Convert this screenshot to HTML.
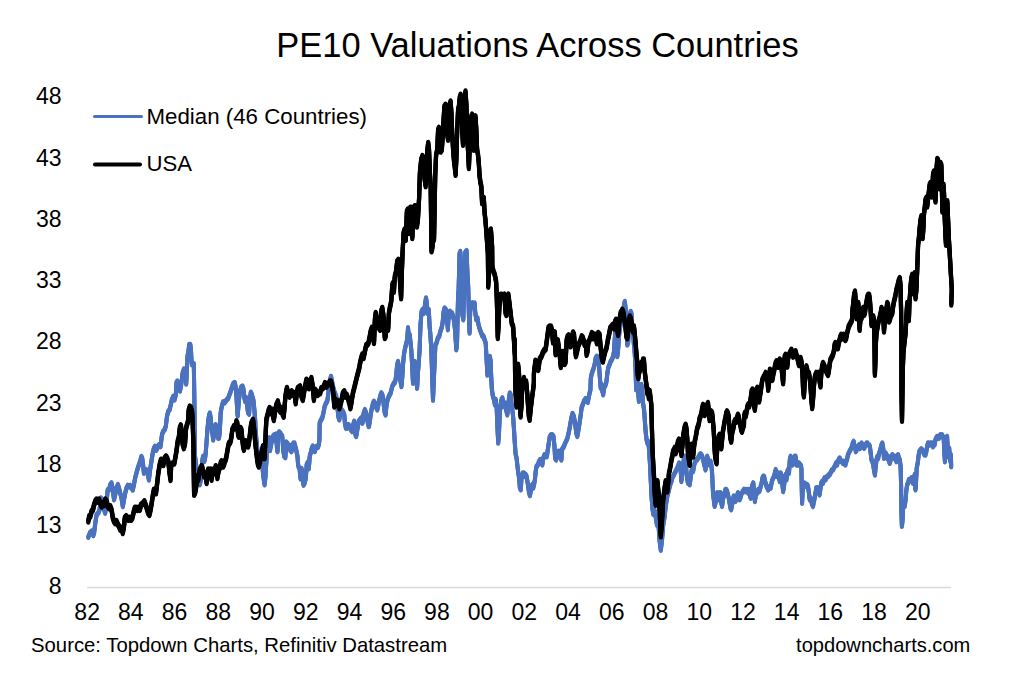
<!DOCTYPE html>
<html><head><meta charset="utf-8"><title>PE10 Valuations Across Countries</title>
<style>html,body{margin:0;padding:0;background:#fff;}svg{display:block;font-family:"Liberation Sans",sans-serif;}</style>
</head><body>
<svg width="1024" height="687" viewBox="0 0 1024 687">
<rect width="1024" height="687" fill="#fff"/>
<text x="537.5" y="56.8" font-size="35.5" text-anchor="middle" fill="#000" textLength="522.5" lengthAdjust="spacingAndGlyphs">PE10 Valuations Across Countries</text>
<text x="61.5" y="104.3" font-size="23" text-anchor="end" fill="#000">48</text>
<text x="61.5" y="165.54999999999998" font-size="23" text-anchor="end" fill="#000">43</text>
<text x="61.5" y="226.79999999999998" font-size="23" text-anchor="end" fill="#000">38</text>
<text x="61.5" y="288.05" font-size="23" text-anchor="end" fill="#000">33</text>
<text x="61.5" y="349.3" font-size="23" text-anchor="end" fill="#000">28</text>
<text x="61.5" y="410.55" font-size="23" text-anchor="end" fill="#000">23</text>
<text x="61.5" y="471.8" font-size="23" text-anchor="end" fill="#000">18</text>
<text x="61.5" y="533.0500000000001" font-size="23" text-anchor="end" fill="#000">13</text>
<text x="61.5" y="594.3000000000001" font-size="23" text-anchor="end" fill="#000">8</text>
<text x="87.15" y="620.3" font-size="23" text-anchor="middle" fill="#000">82</text>
<text x="130.87" y="620.3" font-size="23" text-anchor="middle" fill="#000">84</text>
<text x="174.59" y="620.3" font-size="23" text-anchor="middle" fill="#000">86</text>
<text x="218.31" y="620.3" font-size="23" text-anchor="middle" fill="#000">88</text>
<text x="262.03" y="620.3" font-size="23" text-anchor="middle" fill="#000">90</text>
<text x="305.75" y="620.3" font-size="23" text-anchor="middle" fill="#000">92</text>
<text x="349.47" y="620.3" font-size="23" text-anchor="middle" fill="#000">94</text>
<text x="393.18999999999994" y="620.3" font-size="23" text-anchor="middle" fill="#000">96</text>
<text x="436.90999999999997" y="620.3" font-size="23" text-anchor="middle" fill="#000">98</text>
<text x="480.63" y="620.3" font-size="23" text-anchor="middle" fill="#000">00</text>
<text x="524.35" y="620.3" font-size="23" text-anchor="middle" fill="#000">02</text>
<text x="568.0699999999999" y="620.3" font-size="23" text-anchor="middle" fill="#000">04</text>
<text x="611.79" y="620.3" font-size="23" text-anchor="middle" fill="#000">06</text>
<text x="655.51" y="620.3" font-size="23" text-anchor="middle" fill="#000">08</text>
<text x="699.2299999999999" y="620.3" font-size="23" text-anchor="middle" fill="#000">10</text>
<text x="742.9499999999999" y="620.3" font-size="23" text-anchor="middle" fill="#000">12</text>
<text x="786.67" y="620.3" font-size="23" text-anchor="middle" fill="#000">14</text>
<text x="830.39" y="620.3" font-size="23" text-anchor="middle" fill="#000">16</text>
<text x="874.11" y="620.3" font-size="23" text-anchor="middle" fill="#000">18</text>
<text x="917.8299999999999" y="620.3" font-size="23" text-anchor="middle" fill="#000">20</text>
<line x1="87.2" y1="587.5" x2="950.8" y2="587.5" stroke="#d9d9d9" stroke-width="1.7"/>
<g fill="none" stroke="#4A72BF" stroke-width="4.0" stroke-linejoin="round" stroke-linecap="round">
<path transform="translate(0 -0.9)" d="M88.3,537.1 L90.0,532.9 L91.6,531.3 L93.3,535.4 L94.1,532.9 L95.3,523.0 L96.6,514.7 L98.3,513.0 L99.6,509.7 L100.8,498.1 L101.9,499.7 L102.9,506.4 L104.1,509.7 L105.2,513.0 L106.6,501.4 L107.7,489.8 L109.1,489.8 L110.2,484.8 L111.5,483.1 L112.9,489.8 L114.0,499.7 L115.2,494.8 L116.5,488.1 L117.9,484.8 L119.0,488.1 L120.2,493.1 L121.5,498.1 L122.8,506.4 L124.0,499.7 L125.2,493.1 L126.5,488.1 L127.8,485.6 L129.0,486.5 L130.1,485.6 L131.5,488.1 L132.8,489.8 L133.9,484.8 L135.1,478.2 L136.4,473.2 L137.8,468.2 L138.9,464.9 L140.1,461.6 L141.4,456.6 L142.2,458.2 L143.1,464.9 L143.9,473.2 L145.1,471.5 L146.4,469.9 L147.7,473.2 L148.9,479.8 L150.1,469.9 L151.4,461.6 L152.7,453.3 L153.9,448.3 L155.0,446.6 L156.4,450.0 L157.7,446.6 L158.8,445.0 L160.5,446.6 L160.8,444.5 L162.0,434.6 L163.3,431.2 L164.7,429.6 L165.8,426.3 L167.0,416.3 L168.3,411.3 L169.6,409.7 L170.8,404.7 L171.9,399.7 L173.3,396.4 L174.6,399.7 L175.8,394.7 L176.6,382.2 L177.4,381.3 L178.7,387.4 L180.0,390.9 L181.3,383.9 L182.7,372.6 L184.0,369.1 L185.3,369.9 L186.2,383.9 L187.0,367.3 L187.5,356.0 L188.3,352.5 L189.2,344.6 L190.3,344.6 L191.0,350.7 L191.4,359.4 L192.0,364.7 L192.9,363.8 L193.8,363.8 L194.3,395.0 L195.0,456.4 L195.8,461.4 L196.6,469.6 L197.4,473.0 L198.3,477.9 L199.1,482.9 L199.9,484.6 L200.8,479.6 L201.6,469.6 L202.4,459.7 L203.2,456.4 L204.1,461.4 L204.9,459.7 L205.7,453.1 L206.6,441.4 L207.4,429.8 L208.2,421.5 L209.1,414.9 L209.9,413.2 L210.7,418.2 L211.6,428.2 L212.4,433.1 L213.2,439.8 L214.0,433.1 L214.9,426.5 L215.7,424.9 L216.5,429.8 L217.4,434.8 L218.2,438.1 L219.0,438.1 L219.8,431.5 L220.7,412.4 L222.0,405.4 L223.3,401.9 L224.6,402.8 L226.3,400.2 L228.1,398.4 L229.4,394.9 L230.7,391.4 L232.0,387.1 L233.3,383.6 L234.7,382.7 L235.5,386.2 L236.4,394.9 L237.3,412.4 L237.7,415.9 L238.6,403.7 L239.9,391.4 L241.2,387.1 L242.5,386.2 L243.4,388.8 L244.3,397.6 L245.1,401.1 L246.0,397.6 L246.9,403.7 L248.0,412.4 L249.1,414.1 L249.9,399.3 L250.8,392.3 L251.7,394.1 L252.6,397.6 L253.4,400.2 L254.3,408.9 L255.2,420.0 L255.5,428.2 L256.4,439.8 L257.2,448.1 L258.0,456.4 L258.9,463.0 L259.7,456.4 L260.5,453.1 L261.3,459.7 L262.2,463.0 L263.0,473.0 L263.8,479.6 L264.6,484.6 L265.5,476.3 L266.3,463.0 L267.1,451.4 L268.0,444.8 L268.8,439.8 L269.6,438.1 L270.0,450.4 L271.0,445.3 L272.0,440.2 L273.1,436.1 L274.1,435.1 L275.1,440.2 L276.1,434.1 L277.1,450.4 L277.6,451.4 L278.1,436.1 L279.2,432.0 L280.2,433.1 L281.2,435.1 L282.2,436.1 L282.7,442.2 L283.2,450.4 L284.3,456.5 L285.3,457.5 L285.8,450.4 L286.3,442.2 L287.3,443.2 L288.3,447.3 L289.4,445.3 L290.4,450.4 L291.4,451.4 L292.4,448.3 L293.4,443.2 L294.4,443.2 L295.5,447.3 L296.5,451.4 L297.5,456.5 L298.0,463.6 L298.5,466.7 L299.6,468.7 L300.1,474.8 L300.6,478.9 L301.6,468.7 L302.4,472.8 L303.1,483.0 L303.6,485.0 L304.6,483.0 L305.7,478.9 L306.2,472.8 L306.7,464.6 L307.7,462.6 L308.7,468.7 L309.2,463.6 L309.7,456.5 L310.8,452.4 L311.8,448.3 L312.8,446.3 L313.8,447.3 L314.8,451.4 L315.9,447.3 L316.9,446.3 L317.9,447.3 L318.9,444.3 L319.4,440.2 L319.7,423.0 L321.1,419.7 L322.2,418.1 L323.4,413.1 L324.7,406.4 L326.0,403.1 L327.2,401.5 L328.0,396.5 L328.9,388.2 L330.0,379.9 L331.0,376.6 L331.7,379.9 L332.7,384.9 L333.8,389.9 L335.0,393.2 L336.3,396.5 L337.5,408.1 L338.3,416.4 L339.3,419.7 L340.5,413.1 L341.6,409.8 L342.9,411.4 L344.3,414.7 L344.9,423.0 L345.9,428.0 L347.1,428.0 L348.3,424.7 L349.6,426.4 L350.9,429.7 L352.1,431.3 L353.2,424.7 L354.2,421.4 L355.4,434.6 L356.2,436.3 L357.6,428.0 L358.7,421.4 L359.9,419.7 L361.2,418.1 L362.5,423.0 L363.7,413.1 L364.9,409.8 L366.2,413.1 L367.5,421.4 L368.7,426.4 L369.0,426.3 L369.8,421.3 L370.7,414.7 L371.5,409.7 L372.3,406.4 L373.1,403.1 L374.0,401.4 L374.8,403.1 L375.6,406.4 L376.5,408.0 L377.3,409.7 L378.1,406.4 L378.9,401.4 L379.8,398.1 L380.6,394.8 L381.4,393.1 L382.3,394.8 L383.1,398.1 L383.9,406.4 L384.8,413.0 L385.6,414.7 L386.4,406.4 L387.2,401.4 L388.1,398.1 L388.9,396.4 L389.7,394.8 L390.6,393.1 L391.4,389.8 L392.2,386.5 L393.1,384.8 L393.9,383.1 L394.7,383.1 L395.6,379.8 L396.4,373.2 L397.2,364.9 L398.0,361.6 L398.9,366.6 L399.7,373.2 L400.5,381.5 L401.4,386.5 L402.2,378.2 L403.0,364.9 L403.9,354.9 L404.7,350.0 L405.5,346.6 L406.3,343.3 L407.2,340.0 L408.0,328.0 L408.9,336.3 L409.7,334.6 L411.3,350.0 L412.1,364.9 L413.0,383.1 L413.8,373.2 L414.6,361.6 L415.5,366.6 L416.3,376.5 L417.1,388.1 L417.9,373.2 L418.8,361.6 L419.6,350.0 L420.5,324.7 L421.6,311.4 L422.6,309.7 L423.8,313.1 L425.0,304.8 L426.0,298.1 L426.6,301.4 L427.6,313.1 L428.8,309.7 L429.6,326.3 L430.4,334.6 L431.3,349.6 L433.0,400.0 L434.2,371.8 L435.4,344.6 L436.6,342.9 L437.9,337.9 L439.2,336.3 L440.4,331.3 L441.6,328.0 L442.6,323.0 L443.7,311.4 L444.6,308.1 L445.9,309.7 L447.0,319.7 L447.9,329.6 L448.7,313.1 L449.9,311.4 L450.9,316.4 L452.0,313.1 L453.2,316.4 L453.6,318.0 L455.0,329.6 L456.3,349.5 L457.0,344.6 L458.0,298.1 L458.6,289.8 L459.6,253.3 L460.3,251.6 L460.9,298.1 L461.6,294.8 L462.4,314.7 L463.3,319.6 L464.1,289.8 L464.9,253.3 L465.8,251.6 L466.6,250.8 L467.4,273.2 L468.2,286.5 L469.1,323.0 L469.6,332.9 L470.2,311.4 L471.2,304.7 L472.4,303.1 L473.6,306.4 L474.6,303.1 L475.2,311.4 L476.2,319.6 L477.4,318.0 L478.5,324.6 L479.9,329.6 L481.2,332.9 L482.4,336.2 L483.5,336.2 L484.5,339.6 L485.7,342.9 L487.4,374.9 L488.2,373.2 L489.1,364.9 L489.9,356.6 L490.7,361.6 L491.2,376.5 L491.9,389.8 L492.9,396.4 L494.1,399.7 L494.9,404.7 L495.7,399.7 L496.6,406.4 L497.4,426.3 L498.2,442.9 L499.0,432.9 L499.9,411.4 L500.7,406.4 L501.5,399.7 L502.4,398.1 L503.2,403.1 L504.0,406.4 L504.9,403.1 L505.7,408.0 L506.5,411.4 L507.3,414.7 L508.2,406.4 L509.0,398.1 L509.8,393.1 L510.7,394.8 L511.5,403.1 L512.3,409.7 L513.1,416.3 L514.0,429.6 L514.8,442.9 L515.6,454.0 L516.6,458.2 L517.5,466.5 L518.3,473.1 L519.1,478.1 L519.9,488.0 L520.8,489.7 L521.6,476.4 L522.9,473.1 L524.1,473.1 L524.9,476.4 L525.7,474.8 L526.6,476.4 L527.4,481.4 L528.2,486.4 L529.1,493.0 L529.9,495.5 L530.7,491.4 L531.5,486.4 L532.4,484.7 L533.2,488.0 L534.0,484.7 L534.9,479.7 L535.7,471.4 L536.5,466.5 L537.9,464.8 L539.0,461.5 L540.2,459.8 L541.2,461.5 L542.3,464.8 L543.2,458.2 L544.5,454.9 L545.7,456.5 L546.8,456.5 L547.8,449.9 L549.0,441.6 L549.8,436.6 L551.1,434.9 L552.3,434.9 L553.5,436.6 L554.5,446.6 L555.1,458.2 L556.1,459.8 L557.3,453.2 L558.4,451.5 L559.4,451.5 L560.6,458.2 L561.4,459.8 L562.0,449.4 L563.7,446.8 L565.5,442.4 L567.2,438.9 L568.5,433.7 L569.9,426.7 L571.2,418.8 L572.5,413.6 L573.8,416.2 L575.1,423.2 L576.4,433.7 L577.3,436.3 L578.1,431.9 L579.5,423.2 L580.8,414.4 L581.6,407.5 L583.0,404.0 L584.3,400.5 L585.6,398.7 L586.9,401.4 L587.8,402.2 L588.6,397.9 L589.5,393.5 L590.4,390.0 L590.8,378.0 L591.9,373.0 L593.2,369.7 L594.6,364.7 L595.7,358.1 L596.9,356.4 L598.2,358.1 L599.1,366.4 L599.9,378.0 L600.7,387.9 L601.5,384.6 L602.4,391.2 L603.2,394.6 L604.0,387.9 L604.9,386.3 L605.7,384.6 L606.5,381.3 L607.4,373.0 L608.2,368.0 L609.5,364.7 L610.7,361.4 L611.8,359.7 L613.2,356.4 L614.0,351.4 L614.8,338.1 L615.7,329.9 L616.5,338.1 L617.3,356.4 L618.1,349.8 L619.0,336.5 L619.8,328.2 L621.1,323.2 L622.3,319.9 L623.1,313.2 L624.0,305.0 L624.8,301.6 L625.6,308.3 L626.4,328.2 L627.3,344.8 L628.1,343.1 L628.9,328.2 L629.8,314.9 L630.6,311.6 L631.4,313.2 L632.2,324.9 L633.1,333.2 L633.9,344.8 L634.7,353.1 L635.6,369.7 L636.1,389.6 L636.7,381.3 L637.7,382.9 L638.4,394.6 L638.9,401.2 L639.7,394.6 L640.5,391.2 L641.4,384.6 L642.2,391.2 L643.0,402.9 L644.1,410.0 L644.9,421.6 L645.8,433.2 L646.6,439.8 L647.4,443.1 L648.2,441.5 L649.1,449.8 L649.9,463.1 L650.7,479.6 L651.6,497.9 L652.4,507.9 L653.2,514.0 L654.5,510.0 L655.8,517.5 L657.0,525.0 L658.2,520.0 L659.5,540.0 L660.8,550.0 L662.0,540.0 L663.2,525.0 L664.5,517.5 L664.9,514.0 L665.7,506.2 L666.5,501.2 L667.3,496.2 L668.2,492.9 L669.0,489.6 L669.8,486.3 L670.7,483.0 L671.5,481.3 L672.3,478.0 L673.1,476.3 L674.0,474.7 L674.8,473.0 L675.6,471.4 L676.5,469.7 L677.3,468.0 L678.1,466.4 L679.0,463.1 L679.8,464.7 L680.6,469.7 L681.4,481.3 L682.3,473.0 L683.1,463.1 L683.9,459.7 L684.8,456.4 L685.6,459.7 L686.4,471.4 L687.2,479.6 L688.1,483.0 L688.9,479.6 L689.7,484.6 L690.6,478.0 L691.4,471.4 L692.2,468.0 L693.1,471.4 L693.9,466.4 L694.7,463.1 L695.5,461.4 L696.4,459.7 L697.2,459.7 L698.0,458.1 L698.9,456.4 L699.7,454.8 L700.5,453.9 L701.4,454.8 L702.2,456.4 L703.0,459.7 L703.9,463.1 L704.7,466.4 L705.5,469.7 L706.3,463.1 L707.2,456.4 L708.0,459.7 L708.8,463.1 L709.6,464.7 L710.5,461.4 L711.3,464.7 L712.1,473.0 L713.0,492.9 L713.8,499.6 L714.6,506.2 L715.5,502.9 L716.3,497.9 L717.1,492.9 L718.0,496.2 L718.8,499.6 L719.6,492.9 L720.4,492.9 L721.3,502.9 L722.1,506.2 L722.9,499.6 L723.8,496.2 L724.6,492.9 L725.4,489.6 L726.2,489.6 L727.1,491.3 L727.9,494.6 L728.7,497.9 L729.6,502.9 L730.4,507.9 L731.2,509.5 L732.1,504.6 L732.9,499.6 L733.7,496.2 L734.5,497.9 L735.4,501.2 L736.2,499.6 L737.0,496.2 L737.9,492.9 L738.7,494.6 L739.5,499.6 L740.4,497.9 L741.2,494.6 L742.0,492.9 L742.8,491.3 L744.0,489.6 L744.1,489.7 L745.0,491.4 L745.8,489.7 L746.6,491.4 L747.5,489.7 L748.3,493.0 L749.1,489.7 L750.0,496.3 L750.8,498.0 L751.6,489.7 L752.5,484.7 L753.3,483.1 L754.1,493.0 L754.9,501.3 L755.8,494.7 L756.6,491.4 L757.4,493.0 L758.2,489.7 L759.1,491.4 L759.9,489.7 L760.7,486.4 L761.6,483.1 L762.4,478.1 L763.2,476.4 L764.1,476.4 L764.9,481.4 L765.7,483.1 L766.5,486.4 L767.4,488.0 L768.2,489.7 L769.0,488.0 L769.9,486.4 L770.7,488.0 L771.5,483.1 L772.4,479.7 L773.2,478.1 L774.0,476.4 L774.9,473.1 L775.7,469.8 L776.5,473.1 L777.3,476.4 L778.2,473.1 L779.0,478.1 L779.8,481.4 L780.7,473.1 L781.5,476.4 L782.3,483.1 L783.1,491.4 L784.0,486.4 L784.8,478.1 L785.6,474.8 L786.5,479.7 L787.3,471.4 L788.1,469.8 L789.0,473.1 L789.8,459.8 L790.6,456.5 L791.4,461.5 L792.3,464.8 L793.1,459.8 L793.9,463.1 L794.8,456.5 L795.6,456.5 L796.4,464.8 L797.2,463.1 L798.1,464.8 L798.9,463.1 L799.7,464.8 L800.6,464.8 L801.4,468.1 L801.7,486.4 L802.1,503.0 L802.7,489.7 L803.4,483.1 L804.4,483.1 L805.5,484.7 L806.4,486.4 L807.2,484.7 L808.0,486.4 L808.9,493.0 L809.7,499.6 L810.5,498.0 L811.4,501.3 L812.2,504.6 L813.0,506.3 L813.9,501.3 L814.7,498.0 L815.5,493.0 L816.3,488.0 L817.2,489.7 L818.0,488.0 L818.8,491.4 L819.6,494.7 L820.5,488.0 L821.3,483.1 L822.1,481.4 L823.0,483.1 L823.8,479.7 L824.6,478.1 L825.5,479.7 L826.3,478.1 L827.1,476.4 L828.0,476.4 L828.8,474.8 L829.6,474.8 L830.4,473.1 L831.3,471.4 L832.1,469.8 L832.9,469.8 L833.8,468.1 L834.6,466.5 L835.4,464.8 L836.2,463.1 L837.1,464.8 L837.9,461.5 L838.7,459.8 L839.6,458.2 L840.4,459.8 L841.2,461.5 L842.1,461.5 L842.9,463.1 L843.7,461.5 L844.5,463.1 L845.4,464.8 L846.2,461.5 L847.0,459.8 L847.9,454.9 L848.7,453.2 L849.5,451.5 L850.4,449.9 L851.2,448.2 L852.0,446.6 L852.8,443.2 L853.7,441.6 L854.1,444.9 L855.0,446.6 L855.8,451.5 L856.6,449.9 L857.5,446.6 L858.3,448.2 L859.1,444.9 L859.9,448.2 L860.8,444.9 L861.6,443.2 L862.4,444.9 L863.2,446.6 L864.1,448.2 L864.9,446.6 L865.7,444.9 L866.6,443.2 L867.4,443.2 L868.2,444.9 L869.1,444.9 L869.9,446.6 L870.7,453.2 L871.5,459.8 L872.4,461.5 L873.2,464.8 L874.0,469.8 L874.9,474.8 L875.7,466.5 L876.5,459.8 L877.4,456.5 L878.2,458.2 L879.0,453.2 L879.9,451.5 L880.7,448.2 L881.5,444.9 L882.3,443.2 L883.2,448.2 L884.0,458.2 L884.8,454.9 L885.7,453.2 L886.5,454.9 L887.3,458.2 L888.1,456.5 L889.0,461.5 L889.8,463.1 L890.6,459.8 L891.5,458.2 L892.3,454.9 L893.1,456.5 L894.0,458.2 L894.8,456.5 L895.6,458.2 L896.4,461.5 L897.3,456.5 L898.1,454.9 L898.9,458.2 L899.8,459.8 L900.6,466.5 L901.1,486.4 L901.4,511.3 L901.9,526.2 L902.6,519.6 L903.1,506.3 L903.9,503.0 L904.7,506.3 L905.6,499.6 L906.4,489.7 L907.2,484.7 L908.1,483.1 L908.9,479.7 L909.7,479.7 L910.5,479.7 L911.4,478.1 L912.2,481.4 L913.0,483.1 L913.9,478.1 L914.7,474.8 L915.5,489.7 L916.0,483.1 L916.7,468.1 L917.7,463.1 L918.5,456.5 L919.3,451.5 L920.5,449.9 L921.3,449.0 L922.2,449.9 L923.0,451.5 L923.8,453.2 L924.6,454.9 L925.5,454.9 L926.3,451.5 L927.1,446.6 L928.0,443.2 L928.8,443.2 L929.6,444.9 L930.5,443.2 L931.3,443.2 L932.1,443.2 L933.0,446.6 L933.8,444.9 L934.6,444.9 L935.4,439.9 L936.3,438.2 L937.1,436.6 L937.9,436.6 L938.8,438.2 L939.6,436.6 L940.4,434.9 L941.2,436.6 L942.1,434.9 L942.9,436.6 L943.7,438.2 L944.2,449.9 L944.9,461.5 L945.4,454.9 L945.9,448.2 L946.6,438.2 L947.1,436.6 L947.6,446.6 L948.2,456.5 L948.7,449.9 L949.2,448.2 L949.9,458.2 L950.4,461.5 L950.9,454.9 L951.2,466.5"/>
<path d="M88.3,537.1 L90.0,532.9 L91.6,531.3 L93.3,535.4 L94.1,532.9 L95.3,523.0 L96.6,514.7 L98.3,513.0 L99.6,509.7 L100.8,498.1 L101.9,499.7 L102.9,506.4 L104.1,509.7 L105.2,513.0 L106.6,501.4 L107.7,489.8 L109.1,489.8 L110.2,484.8 L111.5,483.1 L112.9,489.8 L114.0,499.7 L115.2,494.8 L116.5,488.1 L117.9,484.8 L119.0,488.1 L120.2,493.1 L121.5,498.1 L122.8,506.4 L124.0,499.7 L125.2,493.1 L126.5,488.1 L127.8,485.6 L129.0,486.5 L130.1,485.6 L131.5,488.1 L132.8,489.8 L133.9,484.8 L135.1,478.2 L136.4,473.2 L137.8,468.2 L138.9,464.9 L140.1,461.6 L141.4,456.6 L142.2,458.2 L143.1,464.9 L143.9,473.2 L145.1,471.5 L146.4,469.9 L147.7,473.2 L148.9,479.8 L150.1,469.9 L151.4,461.6 L152.7,453.3 L153.9,448.3 L155.0,446.6 L156.4,450.0 L157.7,446.6 L158.8,445.0 L160.5,446.6 L160.8,444.5 L162.0,434.6 L163.3,431.2 L164.7,429.6 L165.8,426.3 L167.0,416.3 L168.3,411.3 L169.6,409.7 L170.8,404.7 L171.9,399.7 L173.3,396.4 L174.6,399.7 L175.8,394.7 L176.6,382.2 L177.4,381.3 L178.7,387.4 L180.0,390.9 L181.3,383.9 L182.7,372.6 L184.0,369.1 L185.3,369.9 L186.2,383.9 L187.0,367.3 L187.5,356.0 L188.3,352.5 L189.2,344.6 L190.3,344.6 L191.0,350.7 L191.4,359.4 L192.0,364.7 L192.9,363.8 L193.8,363.8 L194.3,395.0 L195.0,456.4 L195.8,461.4 L196.6,469.6 L197.4,473.0 L198.3,477.9 L199.1,482.9 L199.9,484.6 L200.8,479.6 L201.6,469.6 L202.4,459.7 L203.2,456.4 L204.1,461.4 L204.9,459.7 L205.7,453.1 L206.6,441.4 L207.4,429.8 L208.2,421.5 L209.1,414.9 L209.9,413.2 L210.7,418.2 L211.6,428.2 L212.4,433.1 L213.2,439.8 L214.0,433.1 L214.9,426.5 L215.7,424.9 L216.5,429.8 L217.4,434.8 L218.2,438.1 L219.0,438.1 L219.8,431.5 L220.7,412.4 L222.0,405.4 L223.3,401.9 L224.6,402.8 L226.3,400.2 L228.1,398.4 L229.4,394.9 L230.7,391.4 L232.0,387.1 L233.3,383.6 L234.7,382.7 L235.5,386.2 L236.4,394.9 L237.3,412.4 L237.7,415.9 L238.6,403.7 L239.9,391.4 L241.2,387.1 L242.5,386.2 L243.4,388.8 L244.3,397.6 L245.1,401.1 L246.0,397.6 L246.9,403.7 L248.0,412.4 L249.1,414.1 L249.9,399.3 L250.8,392.3 L251.7,394.1 L252.6,397.6 L253.4,400.2 L254.3,408.9 L255.2,420.0 L255.5,428.2 L256.4,439.8 L257.2,448.1 L258.0,456.4 L258.9,463.0 L259.7,456.4 L260.5,453.1 L261.3,459.7 L262.2,463.0 L263.0,473.0 L263.8,479.6 L264.6,484.6 L265.5,476.3 L266.3,463.0 L267.1,451.4 L268.0,444.8 L268.8,439.8 L269.6,438.1 L270.0,450.4 L271.0,445.3 L272.0,440.2 L273.1,436.1 L274.1,435.1 L275.1,440.2 L276.1,434.1 L277.1,450.4 L277.6,451.4 L278.1,436.1 L279.2,432.0 L280.2,433.1 L281.2,435.1 L282.2,436.1 L282.7,442.2 L283.2,450.4 L284.3,456.5 L285.3,457.5 L285.8,450.4 L286.3,442.2 L287.3,443.2 L288.3,447.3 L289.4,445.3 L290.4,450.4 L291.4,451.4 L292.4,448.3 L293.4,443.2 L294.4,443.2 L295.5,447.3 L296.5,451.4 L297.5,456.5 L298.0,463.6 L298.5,466.7 L299.6,468.7 L300.1,474.8 L300.6,478.9 L301.6,468.7 L302.4,472.8 L303.1,483.0 L303.6,485.0 L304.6,483.0 L305.7,478.9 L306.2,472.8 L306.7,464.6 L307.7,462.6 L308.7,468.7 L309.2,463.6 L309.7,456.5 L310.8,452.4 L311.8,448.3 L312.8,446.3 L313.8,447.3 L314.8,451.4 L315.9,447.3 L316.9,446.3 L317.9,447.3 L318.9,444.3 L319.4,440.2 L319.7,423.0 L321.1,419.7 L322.2,418.1 L323.4,413.1 L324.7,406.4 L326.0,403.1 L327.2,401.5 L328.0,396.5 L328.9,388.2 L330.0,379.9 L331.0,376.6 L331.7,379.9 L332.7,384.9 L333.8,389.9 L335.0,393.2 L336.3,396.5 L337.5,408.1 L338.3,416.4 L339.3,419.7 L340.5,413.1 L341.6,409.8 L342.9,411.4 L344.3,414.7 L344.9,423.0 L345.9,428.0 L347.1,428.0 L348.3,424.7 L349.6,426.4 L350.9,429.7 L352.1,431.3 L353.2,424.7 L354.2,421.4 L355.4,434.6 L356.2,436.3 L357.6,428.0 L358.7,421.4 L359.9,419.7 L361.2,418.1 L362.5,423.0 L363.7,413.1 L364.9,409.8 L366.2,413.1 L367.5,421.4 L368.7,426.4 L369.0,426.3 L369.8,421.3 L370.7,414.7 L371.5,409.7 L372.3,406.4 L373.1,403.1 L374.0,401.4 L374.8,403.1 L375.6,406.4 L376.5,408.0 L377.3,409.7 L378.1,406.4 L378.9,401.4 L379.8,398.1 L380.6,394.8 L381.4,393.1 L382.3,394.8 L383.1,398.1 L383.9,406.4 L384.8,413.0 L385.6,414.7 L386.4,406.4 L387.2,401.4 L388.1,398.1 L388.9,396.4 L389.7,394.8 L390.6,393.1 L391.4,389.8 L392.2,386.5 L393.1,384.8 L393.9,383.1 L394.7,383.1 L395.6,379.8 L396.4,373.2 L397.2,364.9 L398.0,361.6 L398.9,366.6 L399.7,373.2 L400.5,381.5 L401.4,386.5 L402.2,378.2 L403.0,364.9 L403.9,354.9 L404.7,350.0 L405.5,346.6 L406.3,343.3 L407.2,340.0 L408.0,328.0 L408.9,336.3 L409.7,334.6 L411.3,350.0 L412.1,364.9 L413.0,383.1 L413.8,373.2 L414.6,361.6 L415.5,366.6 L416.3,376.5 L417.1,388.1 L417.9,373.2 L418.8,361.6 L419.6,350.0 L420.5,324.7 L421.6,311.4 L422.6,309.7 L423.8,313.1 L425.0,304.8 L426.0,298.1 L426.6,301.4 L427.6,313.1 L428.8,309.7 L429.6,326.3 L430.4,334.6 L431.3,349.6 L433.0,400.0 L434.2,371.8 L435.4,344.6 L436.6,342.9 L437.9,337.9 L439.2,336.3 L440.4,331.3 L441.6,328.0 L442.6,323.0 L443.7,311.4 L444.6,308.1 L445.9,309.7 L447.0,319.7 L447.9,329.6 L448.7,313.1 L449.9,311.4 L450.9,316.4 L452.0,313.1 L453.2,316.4 L453.6,318.0 L455.0,329.6 L456.3,349.5 L457.0,344.6 L458.0,298.1 L458.6,289.8 L459.6,253.3 L460.3,251.6 L460.9,298.1 L461.6,294.8 L462.4,314.7 L463.3,319.6 L464.1,289.8 L464.9,253.3 L465.8,251.6 L466.6,250.8 L467.4,273.2 L468.2,286.5 L469.1,323.0 L469.6,332.9 L470.2,311.4 L471.2,304.7 L472.4,303.1 L473.6,306.4 L474.6,303.1 L475.2,311.4 L476.2,319.6 L477.4,318.0 L478.5,324.6 L479.9,329.6 L481.2,332.9 L482.4,336.2 L483.5,336.2 L484.5,339.6 L485.7,342.9 L487.4,374.9 L488.2,373.2 L489.1,364.9 L489.9,356.6 L490.7,361.6 L491.2,376.5 L491.9,389.8 L492.9,396.4 L494.1,399.7 L494.9,404.7 L495.7,399.7 L496.6,406.4 L497.4,426.3 L498.2,442.9 L499.0,432.9 L499.9,411.4 L500.7,406.4 L501.5,399.7 L502.4,398.1 L503.2,403.1 L504.0,406.4 L504.9,403.1 L505.7,408.0 L506.5,411.4 L507.3,414.7 L508.2,406.4 L509.0,398.1 L509.8,393.1 L510.7,394.8 L511.5,403.1 L512.3,409.7 L513.1,416.3 L514.0,429.6 L514.8,442.9 L515.6,454.0 L516.6,458.2 L517.5,466.5 L518.3,473.1 L519.1,478.1 L519.9,488.0 L520.8,489.7 L521.6,476.4 L522.9,473.1 L524.1,473.1 L524.9,476.4 L525.7,474.8 L526.6,476.4 L527.4,481.4 L528.2,486.4 L529.1,493.0 L529.9,495.5 L530.7,491.4 L531.5,486.4 L532.4,484.7 L533.2,488.0 L534.0,484.7 L534.9,479.7 L535.7,471.4 L536.5,466.5 L537.9,464.8 L539.0,461.5 L540.2,459.8 L541.2,461.5 L542.3,464.8 L543.2,458.2 L544.5,454.9 L545.7,456.5 L546.8,456.5 L547.8,449.9 L549.0,441.6 L549.8,436.6 L551.1,434.9 L552.3,434.9 L553.5,436.6 L554.5,446.6 L555.1,458.2 L556.1,459.8 L557.3,453.2 L558.4,451.5 L559.4,451.5 L560.6,458.2 L561.4,459.8 L562.0,449.4 L563.7,446.8 L565.5,442.4 L567.2,438.9 L568.5,433.7 L569.9,426.7 L571.2,418.8 L572.5,413.6 L573.8,416.2 L575.1,423.2 L576.4,433.7 L577.3,436.3 L578.1,431.9 L579.5,423.2 L580.8,414.4 L581.6,407.5 L583.0,404.0 L584.3,400.5 L585.6,398.7 L586.9,401.4 L587.8,402.2 L588.6,397.9 L589.5,393.5 L590.4,390.0 L590.8,378.0 L591.9,373.0 L593.2,369.7 L594.6,364.7 L595.7,358.1 L596.9,356.4 L598.2,358.1 L599.1,366.4 L599.9,378.0 L600.7,387.9 L601.5,384.6 L602.4,391.2 L603.2,394.6 L604.0,387.9 L604.9,386.3 L605.7,384.6 L606.5,381.3 L607.4,373.0 L608.2,368.0 L609.5,364.7 L610.7,361.4 L611.8,359.7 L613.2,356.4 L614.0,351.4 L614.8,338.1 L615.7,329.9 L616.5,338.1 L617.3,356.4 L618.1,349.8 L619.0,336.5 L619.8,328.2 L621.1,323.2 L622.3,319.9 L623.1,313.2 L624.0,305.0 L624.8,301.6 L625.6,308.3 L626.4,328.2 L627.3,344.8 L628.1,343.1 L628.9,328.2 L629.8,314.9 L630.6,311.6 L631.4,313.2 L632.2,324.9 L633.1,333.2 L633.9,344.8 L634.7,353.1 L635.6,369.7 L636.1,389.6 L636.7,381.3 L637.7,382.9 L638.4,394.6 L638.9,401.2 L639.7,394.6 L640.5,391.2 L641.4,384.6 L642.2,391.2 L643.0,402.9 L644.1,410.0 L644.9,421.6 L645.8,433.2 L646.6,439.8 L647.4,443.1 L648.2,441.5 L649.1,449.8 L649.9,463.1 L650.7,479.6 L651.6,497.9 L652.4,507.9 L653.2,514.0 L654.5,510.0 L655.8,517.5 L657.0,525.0 L658.2,520.0 L659.5,540.0 L660.8,550.0 L662.0,540.0 L663.2,525.0 L664.5,517.5 L664.9,514.0 L665.7,506.2 L666.5,501.2 L667.3,496.2 L668.2,492.9 L669.0,489.6 L669.8,486.3 L670.7,483.0 L671.5,481.3 L672.3,478.0 L673.1,476.3 L674.0,474.7 L674.8,473.0 L675.6,471.4 L676.5,469.7 L677.3,468.0 L678.1,466.4 L679.0,463.1 L679.8,464.7 L680.6,469.7 L681.4,481.3 L682.3,473.0 L683.1,463.1 L683.9,459.7 L684.8,456.4 L685.6,459.7 L686.4,471.4 L687.2,479.6 L688.1,483.0 L688.9,479.6 L689.7,484.6 L690.6,478.0 L691.4,471.4 L692.2,468.0 L693.1,471.4 L693.9,466.4 L694.7,463.1 L695.5,461.4 L696.4,459.7 L697.2,459.7 L698.0,458.1 L698.9,456.4 L699.7,454.8 L700.5,453.9 L701.4,454.8 L702.2,456.4 L703.0,459.7 L703.9,463.1 L704.7,466.4 L705.5,469.7 L706.3,463.1 L707.2,456.4 L708.0,459.7 L708.8,463.1 L709.6,464.7 L710.5,461.4 L711.3,464.7 L712.1,473.0 L713.0,492.9 L713.8,499.6 L714.6,506.2 L715.5,502.9 L716.3,497.9 L717.1,492.9 L718.0,496.2 L718.8,499.6 L719.6,492.9 L720.4,492.9 L721.3,502.9 L722.1,506.2 L722.9,499.6 L723.8,496.2 L724.6,492.9 L725.4,489.6 L726.2,489.6 L727.1,491.3 L727.9,494.6 L728.7,497.9 L729.6,502.9 L730.4,507.9 L731.2,509.5 L732.1,504.6 L732.9,499.6 L733.7,496.2 L734.5,497.9 L735.4,501.2 L736.2,499.6 L737.0,496.2 L737.9,492.9 L738.7,494.6 L739.5,499.6 L740.4,497.9 L741.2,494.6 L742.0,492.9 L742.8,491.3 L744.0,489.6 L744.1,489.7 L745.0,491.4 L745.8,489.7 L746.6,491.4 L747.5,489.7 L748.3,493.0 L749.1,489.7 L750.0,496.3 L750.8,498.0 L751.6,489.7 L752.5,484.7 L753.3,483.1 L754.1,493.0 L754.9,501.3 L755.8,494.7 L756.6,491.4 L757.4,493.0 L758.2,489.7 L759.1,491.4 L759.9,489.7 L760.7,486.4 L761.6,483.1 L762.4,478.1 L763.2,476.4 L764.1,476.4 L764.9,481.4 L765.7,483.1 L766.5,486.4 L767.4,488.0 L768.2,489.7 L769.0,488.0 L769.9,486.4 L770.7,488.0 L771.5,483.1 L772.4,479.7 L773.2,478.1 L774.0,476.4 L774.9,473.1 L775.7,469.8 L776.5,473.1 L777.3,476.4 L778.2,473.1 L779.0,478.1 L779.8,481.4 L780.7,473.1 L781.5,476.4 L782.3,483.1 L783.1,491.4 L784.0,486.4 L784.8,478.1 L785.6,474.8 L786.5,479.7 L787.3,471.4 L788.1,469.8 L789.0,473.1 L789.8,459.8 L790.6,456.5 L791.4,461.5 L792.3,464.8 L793.1,459.8 L793.9,463.1 L794.8,456.5 L795.6,456.5 L796.4,464.8 L797.2,463.1 L798.1,464.8 L798.9,463.1 L799.7,464.8 L800.6,464.8 L801.4,468.1 L801.7,486.4 L802.1,503.0 L802.7,489.7 L803.4,483.1 L804.4,483.1 L805.5,484.7 L806.4,486.4 L807.2,484.7 L808.0,486.4 L808.9,493.0 L809.7,499.6 L810.5,498.0 L811.4,501.3 L812.2,504.6 L813.0,506.3 L813.9,501.3 L814.7,498.0 L815.5,493.0 L816.3,488.0 L817.2,489.7 L818.0,488.0 L818.8,491.4 L819.6,494.7 L820.5,488.0 L821.3,483.1 L822.1,481.4 L823.0,483.1 L823.8,479.7 L824.6,478.1 L825.5,479.7 L826.3,478.1 L827.1,476.4 L828.0,476.4 L828.8,474.8 L829.6,474.8 L830.4,473.1 L831.3,471.4 L832.1,469.8 L832.9,469.8 L833.8,468.1 L834.6,466.5 L835.4,464.8 L836.2,463.1 L837.1,464.8 L837.9,461.5 L838.7,459.8 L839.6,458.2 L840.4,459.8 L841.2,461.5 L842.1,461.5 L842.9,463.1 L843.7,461.5 L844.5,463.1 L845.4,464.8 L846.2,461.5 L847.0,459.8 L847.9,454.9 L848.7,453.2 L849.5,451.5 L850.4,449.9 L851.2,448.2 L852.0,446.6 L852.8,443.2 L853.7,441.6 L854.1,444.9 L855.0,446.6 L855.8,451.5 L856.6,449.9 L857.5,446.6 L858.3,448.2 L859.1,444.9 L859.9,448.2 L860.8,444.9 L861.6,443.2 L862.4,444.9 L863.2,446.6 L864.1,448.2 L864.9,446.6 L865.7,444.9 L866.6,443.2 L867.4,443.2 L868.2,444.9 L869.1,444.9 L869.9,446.6 L870.7,453.2 L871.5,459.8 L872.4,461.5 L873.2,464.8 L874.0,469.8 L874.9,474.8 L875.7,466.5 L876.5,459.8 L877.4,456.5 L878.2,458.2 L879.0,453.2 L879.9,451.5 L880.7,448.2 L881.5,444.9 L882.3,443.2 L883.2,448.2 L884.0,458.2 L884.8,454.9 L885.7,453.2 L886.5,454.9 L887.3,458.2 L888.1,456.5 L889.0,461.5 L889.8,463.1 L890.6,459.8 L891.5,458.2 L892.3,454.9 L893.1,456.5 L894.0,458.2 L894.8,456.5 L895.6,458.2 L896.4,461.5 L897.3,456.5 L898.1,454.9 L898.9,458.2 L899.8,459.8 L900.6,466.5 L901.1,486.4 L901.4,511.3 L901.9,526.2 L902.6,519.6 L903.1,506.3 L903.9,503.0 L904.7,506.3 L905.6,499.6 L906.4,489.7 L907.2,484.7 L908.1,483.1 L908.9,479.7 L909.7,479.7 L910.5,479.7 L911.4,478.1 L912.2,481.4 L913.0,483.1 L913.9,478.1 L914.7,474.8 L915.5,489.7 L916.0,483.1 L916.7,468.1 L917.7,463.1 L918.5,456.5 L919.3,451.5 L920.5,449.9 L921.3,449.0 L922.2,449.9 L923.0,451.5 L923.8,453.2 L924.6,454.9 L925.5,454.9 L926.3,451.5 L927.1,446.6 L928.0,443.2 L928.8,443.2 L929.6,444.9 L930.5,443.2 L931.3,443.2 L932.1,443.2 L933.0,446.6 L933.8,444.9 L934.6,444.9 L935.4,439.9 L936.3,438.2 L937.1,436.6 L937.9,436.6 L938.8,438.2 L939.6,436.6 L940.4,434.9 L941.2,436.6 L942.1,434.9 L942.9,436.6 L943.7,438.2 L944.2,449.9 L944.9,461.5 L945.4,454.9 L945.9,448.2 L946.6,438.2 L947.1,436.6 L947.6,446.6 L948.2,456.5 L948.7,449.9 L949.2,448.2 L949.9,458.2 L950.4,461.5 L950.9,454.9 L951.2,466.5"/>
<path transform="translate(0 0.9)" d="M88.3,537.1 L90.0,532.9 L91.6,531.3 L93.3,535.4 L94.1,532.9 L95.3,523.0 L96.6,514.7 L98.3,513.0 L99.6,509.7 L100.8,498.1 L101.9,499.7 L102.9,506.4 L104.1,509.7 L105.2,513.0 L106.6,501.4 L107.7,489.8 L109.1,489.8 L110.2,484.8 L111.5,483.1 L112.9,489.8 L114.0,499.7 L115.2,494.8 L116.5,488.1 L117.9,484.8 L119.0,488.1 L120.2,493.1 L121.5,498.1 L122.8,506.4 L124.0,499.7 L125.2,493.1 L126.5,488.1 L127.8,485.6 L129.0,486.5 L130.1,485.6 L131.5,488.1 L132.8,489.8 L133.9,484.8 L135.1,478.2 L136.4,473.2 L137.8,468.2 L138.9,464.9 L140.1,461.6 L141.4,456.6 L142.2,458.2 L143.1,464.9 L143.9,473.2 L145.1,471.5 L146.4,469.9 L147.7,473.2 L148.9,479.8 L150.1,469.9 L151.4,461.6 L152.7,453.3 L153.9,448.3 L155.0,446.6 L156.4,450.0 L157.7,446.6 L158.8,445.0 L160.5,446.6 L160.8,444.5 L162.0,434.6 L163.3,431.2 L164.7,429.6 L165.8,426.3 L167.0,416.3 L168.3,411.3 L169.6,409.7 L170.8,404.7 L171.9,399.7 L173.3,396.4 L174.6,399.7 L175.8,394.7 L176.6,382.2 L177.4,381.3 L178.7,387.4 L180.0,390.9 L181.3,383.9 L182.7,372.6 L184.0,369.1 L185.3,369.9 L186.2,383.9 L187.0,367.3 L187.5,356.0 L188.3,352.5 L189.2,344.6 L190.3,344.6 L191.0,350.7 L191.4,359.4 L192.0,364.7 L192.9,363.8 L193.8,363.8 L194.3,395.0 L195.0,456.4 L195.8,461.4 L196.6,469.6 L197.4,473.0 L198.3,477.9 L199.1,482.9 L199.9,484.6 L200.8,479.6 L201.6,469.6 L202.4,459.7 L203.2,456.4 L204.1,461.4 L204.9,459.7 L205.7,453.1 L206.6,441.4 L207.4,429.8 L208.2,421.5 L209.1,414.9 L209.9,413.2 L210.7,418.2 L211.6,428.2 L212.4,433.1 L213.2,439.8 L214.0,433.1 L214.9,426.5 L215.7,424.9 L216.5,429.8 L217.4,434.8 L218.2,438.1 L219.0,438.1 L219.8,431.5 L220.7,412.4 L222.0,405.4 L223.3,401.9 L224.6,402.8 L226.3,400.2 L228.1,398.4 L229.4,394.9 L230.7,391.4 L232.0,387.1 L233.3,383.6 L234.7,382.7 L235.5,386.2 L236.4,394.9 L237.3,412.4 L237.7,415.9 L238.6,403.7 L239.9,391.4 L241.2,387.1 L242.5,386.2 L243.4,388.8 L244.3,397.6 L245.1,401.1 L246.0,397.6 L246.9,403.7 L248.0,412.4 L249.1,414.1 L249.9,399.3 L250.8,392.3 L251.7,394.1 L252.6,397.6 L253.4,400.2 L254.3,408.9 L255.2,420.0 L255.5,428.2 L256.4,439.8 L257.2,448.1 L258.0,456.4 L258.9,463.0 L259.7,456.4 L260.5,453.1 L261.3,459.7 L262.2,463.0 L263.0,473.0 L263.8,479.6 L264.6,484.6 L265.5,476.3 L266.3,463.0 L267.1,451.4 L268.0,444.8 L268.8,439.8 L269.6,438.1 L270.0,450.4 L271.0,445.3 L272.0,440.2 L273.1,436.1 L274.1,435.1 L275.1,440.2 L276.1,434.1 L277.1,450.4 L277.6,451.4 L278.1,436.1 L279.2,432.0 L280.2,433.1 L281.2,435.1 L282.2,436.1 L282.7,442.2 L283.2,450.4 L284.3,456.5 L285.3,457.5 L285.8,450.4 L286.3,442.2 L287.3,443.2 L288.3,447.3 L289.4,445.3 L290.4,450.4 L291.4,451.4 L292.4,448.3 L293.4,443.2 L294.4,443.2 L295.5,447.3 L296.5,451.4 L297.5,456.5 L298.0,463.6 L298.5,466.7 L299.6,468.7 L300.1,474.8 L300.6,478.9 L301.6,468.7 L302.4,472.8 L303.1,483.0 L303.6,485.0 L304.6,483.0 L305.7,478.9 L306.2,472.8 L306.7,464.6 L307.7,462.6 L308.7,468.7 L309.2,463.6 L309.7,456.5 L310.8,452.4 L311.8,448.3 L312.8,446.3 L313.8,447.3 L314.8,451.4 L315.9,447.3 L316.9,446.3 L317.9,447.3 L318.9,444.3 L319.4,440.2 L319.7,423.0 L321.1,419.7 L322.2,418.1 L323.4,413.1 L324.7,406.4 L326.0,403.1 L327.2,401.5 L328.0,396.5 L328.9,388.2 L330.0,379.9 L331.0,376.6 L331.7,379.9 L332.7,384.9 L333.8,389.9 L335.0,393.2 L336.3,396.5 L337.5,408.1 L338.3,416.4 L339.3,419.7 L340.5,413.1 L341.6,409.8 L342.9,411.4 L344.3,414.7 L344.9,423.0 L345.9,428.0 L347.1,428.0 L348.3,424.7 L349.6,426.4 L350.9,429.7 L352.1,431.3 L353.2,424.7 L354.2,421.4 L355.4,434.6 L356.2,436.3 L357.6,428.0 L358.7,421.4 L359.9,419.7 L361.2,418.1 L362.5,423.0 L363.7,413.1 L364.9,409.8 L366.2,413.1 L367.5,421.4 L368.7,426.4 L369.0,426.3 L369.8,421.3 L370.7,414.7 L371.5,409.7 L372.3,406.4 L373.1,403.1 L374.0,401.4 L374.8,403.1 L375.6,406.4 L376.5,408.0 L377.3,409.7 L378.1,406.4 L378.9,401.4 L379.8,398.1 L380.6,394.8 L381.4,393.1 L382.3,394.8 L383.1,398.1 L383.9,406.4 L384.8,413.0 L385.6,414.7 L386.4,406.4 L387.2,401.4 L388.1,398.1 L388.9,396.4 L389.7,394.8 L390.6,393.1 L391.4,389.8 L392.2,386.5 L393.1,384.8 L393.9,383.1 L394.7,383.1 L395.6,379.8 L396.4,373.2 L397.2,364.9 L398.0,361.6 L398.9,366.6 L399.7,373.2 L400.5,381.5 L401.4,386.5 L402.2,378.2 L403.0,364.9 L403.9,354.9 L404.7,350.0 L405.5,346.6 L406.3,343.3 L407.2,340.0 L408.0,328.0 L408.9,336.3 L409.7,334.6 L411.3,350.0 L412.1,364.9 L413.0,383.1 L413.8,373.2 L414.6,361.6 L415.5,366.6 L416.3,376.5 L417.1,388.1 L417.9,373.2 L418.8,361.6 L419.6,350.0 L420.5,324.7 L421.6,311.4 L422.6,309.7 L423.8,313.1 L425.0,304.8 L426.0,298.1 L426.6,301.4 L427.6,313.1 L428.8,309.7 L429.6,326.3 L430.4,334.6 L431.3,349.6 L433.0,400.0 L434.2,371.8 L435.4,344.6 L436.6,342.9 L437.9,337.9 L439.2,336.3 L440.4,331.3 L441.6,328.0 L442.6,323.0 L443.7,311.4 L444.6,308.1 L445.9,309.7 L447.0,319.7 L447.9,329.6 L448.7,313.1 L449.9,311.4 L450.9,316.4 L452.0,313.1 L453.2,316.4 L453.6,318.0 L455.0,329.6 L456.3,349.5 L457.0,344.6 L458.0,298.1 L458.6,289.8 L459.6,253.3 L460.3,251.6 L460.9,298.1 L461.6,294.8 L462.4,314.7 L463.3,319.6 L464.1,289.8 L464.9,253.3 L465.8,251.6 L466.6,250.8 L467.4,273.2 L468.2,286.5 L469.1,323.0 L469.6,332.9 L470.2,311.4 L471.2,304.7 L472.4,303.1 L473.6,306.4 L474.6,303.1 L475.2,311.4 L476.2,319.6 L477.4,318.0 L478.5,324.6 L479.9,329.6 L481.2,332.9 L482.4,336.2 L483.5,336.2 L484.5,339.6 L485.7,342.9 L487.4,374.9 L488.2,373.2 L489.1,364.9 L489.9,356.6 L490.7,361.6 L491.2,376.5 L491.9,389.8 L492.9,396.4 L494.1,399.7 L494.9,404.7 L495.7,399.7 L496.6,406.4 L497.4,426.3 L498.2,442.9 L499.0,432.9 L499.9,411.4 L500.7,406.4 L501.5,399.7 L502.4,398.1 L503.2,403.1 L504.0,406.4 L504.9,403.1 L505.7,408.0 L506.5,411.4 L507.3,414.7 L508.2,406.4 L509.0,398.1 L509.8,393.1 L510.7,394.8 L511.5,403.1 L512.3,409.7 L513.1,416.3 L514.0,429.6 L514.8,442.9 L515.6,454.0 L516.6,458.2 L517.5,466.5 L518.3,473.1 L519.1,478.1 L519.9,488.0 L520.8,489.7 L521.6,476.4 L522.9,473.1 L524.1,473.1 L524.9,476.4 L525.7,474.8 L526.6,476.4 L527.4,481.4 L528.2,486.4 L529.1,493.0 L529.9,495.5 L530.7,491.4 L531.5,486.4 L532.4,484.7 L533.2,488.0 L534.0,484.7 L534.9,479.7 L535.7,471.4 L536.5,466.5 L537.9,464.8 L539.0,461.5 L540.2,459.8 L541.2,461.5 L542.3,464.8 L543.2,458.2 L544.5,454.9 L545.7,456.5 L546.8,456.5 L547.8,449.9 L549.0,441.6 L549.8,436.6 L551.1,434.9 L552.3,434.9 L553.5,436.6 L554.5,446.6 L555.1,458.2 L556.1,459.8 L557.3,453.2 L558.4,451.5 L559.4,451.5 L560.6,458.2 L561.4,459.8 L562.0,449.4 L563.7,446.8 L565.5,442.4 L567.2,438.9 L568.5,433.7 L569.9,426.7 L571.2,418.8 L572.5,413.6 L573.8,416.2 L575.1,423.2 L576.4,433.7 L577.3,436.3 L578.1,431.9 L579.5,423.2 L580.8,414.4 L581.6,407.5 L583.0,404.0 L584.3,400.5 L585.6,398.7 L586.9,401.4 L587.8,402.2 L588.6,397.9 L589.5,393.5 L590.4,390.0 L590.8,378.0 L591.9,373.0 L593.2,369.7 L594.6,364.7 L595.7,358.1 L596.9,356.4 L598.2,358.1 L599.1,366.4 L599.9,378.0 L600.7,387.9 L601.5,384.6 L602.4,391.2 L603.2,394.6 L604.0,387.9 L604.9,386.3 L605.7,384.6 L606.5,381.3 L607.4,373.0 L608.2,368.0 L609.5,364.7 L610.7,361.4 L611.8,359.7 L613.2,356.4 L614.0,351.4 L614.8,338.1 L615.7,329.9 L616.5,338.1 L617.3,356.4 L618.1,349.8 L619.0,336.5 L619.8,328.2 L621.1,323.2 L622.3,319.9 L623.1,313.2 L624.0,305.0 L624.8,301.6 L625.6,308.3 L626.4,328.2 L627.3,344.8 L628.1,343.1 L628.9,328.2 L629.8,314.9 L630.6,311.6 L631.4,313.2 L632.2,324.9 L633.1,333.2 L633.9,344.8 L634.7,353.1 L635.6,369.7 L636.1,389.6 L636.7,381.3 L637.7,382.9 L638.4,394.6 L638.9,401.2 L639.7,394.6 L640.5,391.2 L641.4,384.6 L642.2,391.2 L643.0,402.9 L644.1,410.0 L644.9,421.6 L645.8,433.2 L646.6,439.8 L647.4,443.1 L648.2,441.5 L649.1,449.8 L649.9,463.1 L650.7,479.6 L651.6,497.9 L652.4,507.9 L653.2,514.0 L654.5,510.0 L655.8,517.5 L657.0,525.0 L658.2,520.0 L659.5,540.0 L660.8,550.0 L662.0,540.0 L663.2,525.0 L664.5,517.5 L664.9,514.0 L665.7,506.2 L666.5,501.2 L667.3,496.2 L668.2,492.9 L669.0,489.6 L669.8,486.3 L670.7,483.0 L671.5,481.3 L672.3,478.0 L673.1,476.3 L674.0,474.7 L674.8,473.0 L675.6,471.4 L676.5,469.7 L677.3,468.0 L678.1,466.4 L679.0,463.1 L679.8,464.7 L680.6,469.7 L681.4,481.3 L682.3,473.0 L683.1,463.1 L683.9,459.7 L684.8,456.4 L685.6,459.7 L686.4,471.4 L687.2,479.6 L688.1,483.0 L688.9,479.6 L689.7,484.6 L690.6,478.0 L691.4,471.4 L692.2,468.0 L693.1,471.4 L693.9,466.4 L694.7,463.1 L695.5,461.4 L696.4,459.7 L697.2,459.7 L698.0,458.1 L698.9,456.4 L699.7,454.8 L700.5,453.9 L701.4,454.8 L702.2,456.4 L703.0,459.7 L703.9,463.1 L704.7,466.4 L705.5,469.7 L706.3,463.1 L707.2,456.4 L708.0,459.7 L708.8,463.1 L709.6,464.7 L710.5,461.4 L711.3,464.7 L712.1,473.0 L713.0,492.9 L713.8,499.6 L714.6,506.2 L715.5,502.9 L716.3,497.9 L717.1,492.9 L718.0,496.2 L718.8,499.6 L719.6,492.9 L720.4,492.9 L721.3,502.9 L722.1,506.2 L722.9,499.6 L723.8,496.2 L724.6,492.9 L725.4,489.6 L726.2,489.6 L727.1,491.3 L727.9,494.6 L728.7,497.9 L729.6,502.9 L730.4,507.9 L731.2,509.5 L732.1,504.6 L732.9,499.6 L733.7,496.2 L734.5,497.9 L735.4,501.2 L736.2,499.6 L737.0,496.2 L737.9,492.9 L738.7,494.6 L739.5,499.6 L740.4,497.9 L741.2,494.6 L742.0,492.9 L742.8,491.3 L744.0,489.6 L744.1,489.7 L745.0,491.4 L745.8,489.7 L746.6,491.4 L747.5,489.7 L748.3,493.0 L749.1,489.7 L750.0,496.3 L750.8,498.0 L751.6,489.7 L752.5,484.7 L753.3,483.1 L754.1,493.0 L754.9,501.3 L755.8,494.7 L756.6,491.4 L757.4,493.0 L758.2,489.7 L759.1,491.4 L759.9,489.7 L760.7,486.4 L761.6,483.1 L762.4,478.1 L763.2,476.4 L764.1,476.4 L764.9,481.4 L765.7,483.1 L766.5,486.4 L767.4,488.0 L768.2,489.7 L769.0,488.0 L769.9,486.4 L770.7,488.0 L771.5,483.1 L772.4,479.7 L773.2,478.1 L774.0,476.4 L774.9,473.1 L775.7,469.8 L776.5,473.1 L777.3,476.4 L778.2,473.1 L779.0,478.1 L779.8,481.4 L780.7,473.1 L781.5,476.4 L782.3,483.1 L783.1,491.4 L784.0,486.4 L784.8,478.1 L785.6,474.8 L786.5,479.7 L787.3,471.4 L788.1,469.8 L789.0,473.1 L789.8,459.8 L790.6,456.5 L791.4,461.5 L792.3,464.8 L793.1,459.8 L793.9,463.1 L794.8,456.5 L795.6,456.5 L796.4,464.8 L797.2,463.1 L798.1,464.8 L798.9,463.1 L799.7,464.8 L800.6,464.8 L801.4,468.1 L801.7,486.4 L802.1,503.0 L802.7,489.7 L803.4,483.1 L804.4,483.1 L805.5,484.7 L806.4,486.4 L807.2,484.7 L808.0,486.4 L808.9,493.0 L809.7,499.6 L810.5,498.0 L811.4,501.3 L812.2,504.6 L813.0,506.3 L813.9,501.3 L814.7,498.0 L815.5,493.0 L816.3,488.0 L817.2,489.7 L818.0,488.0 L818.8,491.4 L819.6,494.7 L820.5,488.0 L821.3,483.1 L822.1,481.4 L823.0,483.1 L823.8,479.7 L824.6,478.1 L825.5,479.7 L826.3,478.1 L827.1,476.4 L828.0,476.4 L828.8,474.8 L829.6,474.8 L830.4,473.1 L831.3,471.4 L832.1,469.8 L832.9,469.8 L833.8,468.1 L834.6,466.5 L835.4,464.8 L836.2,463.1 L837.1,464.8 L837.9,461.5 L838.7,459.8 L839.6,458.2 L840.4,459.8 L841.2,461.5 L842.1,461.5 L842.9,463.1 L843.7,461.5 L844.5,463.1 L845.4,464.8 L846.2,461.5 L847.0,459.8 L847.9,454.9 L848.7,453.2 L849.5,451.5 L850.4,449.9 L851.2,448.2 L852.0,446.6 L852.8,443.2 L853.7,441.6 L854.1,444.9 L855.0,446.6 L855.8,451.5 L856.6,449.9 L857.5,446.6 L858.3,448.2 L859.1,444.9 L859.9,448.2 L860.8,444.9 L861.6,443.2 L862.4,444.9 L863.2,446.6 L864.1,448.2 L864.9,446.6 L865.7,444.9 L866.6,443.2 L867.4,443.2 L868.2,444.9 L869.1,444.9 L869.9,446.6 L870.7,453.2 L871.5,459.8 L872.4,461.5 L873.2,464.8 L874.0,469.8 L874.9,474.8 L875.7,466.5 L876.5,459.8 L877.4,456.5 L878.2,458.2 L879.0,453.2 L879.9,451.5 L880.7,448.2 L881.5,444.9 L882.3,443.2 L883.2,448.2 L884.0,458.2 L884.8,454.9 L885.7,453.2 L886.5,454.9 L887.3,458.2 L888.1,456.5 L889.0,461.5 L889.8,463.1 L890.6,459.8 L891.5,458.2 L892.3,454.9 L893.1,456.5 L894.0,458.2 L894.8,456.5 L895.6,458.2 L896.4,461.5 L897.3,456.5 L898.1,454.9 L898.9,458.2 L899.8,459.8 L900.6,466.5 L901.1,486.4 L901.4,511.3 L901.9,526.2 L902.6,519.6 L903.1,506.3 L903.9,503.0 L904.7,506.3 L905.6,499.6 L906.4,489.7 L907.2,484.7 L908.1,483.1 L908.9,479.7 L909.7,479.7 L910.5,479.7 L911.4,478.1 L912.2,481.4 L913.0,483.1 L913.9,478.1 L914.7,474.8 L915.5,489.7 L916.0,483.1 L916.7,468.1 L917.7,463.1 L918.5,456.5 L919.3,451.5 L920.5,449.9 L921.3,449.0 L922.2,449.9 L923.0,451.5 L923.8,453.2 L924.6,454.9 L925.5,454.9 L926.3,451.5 L927.1,446.6 L928.0,443.2 L928.8,443.2 L929.6,444.9 L930.5,443.2 L931.3,443.2 L932.1,443.2 L933.0,446.6 L933.8,444.9 L934.6,444.9 L935.4,439.9 L936.3,438.2 L937.1,436.6 L937.9,436.6 L938.8,438.2 L939.6,436.6 L940.4,434.9 L941.2,436.6 L942.1,434.9 L942.9,436.6 L943.7,438.2 L944.2,449.9 L944.9,461.5 L945.4,454.9 L945.9,448.2 L946.6,438.2 L947.1,436.6 L947.6,446.6 L948.2,456.5 L948.7,449.9 L949.2,448.2 L949.9,458.2 L950.4,461.5 L950.9,454.9 L951.2,466.5"/>
</g>
<g fill="none" stroke="#000" stroke-width="4.2" stroke-linejoin="round" stroke-linecap="round">
<path transform="translate(0 -1.3)" d="M88.3,521.3 L89.2,516.3 L90.3,516.3 L91.6,511.4 L93.0,509.7 L94.1,504.7 L95.3,501.4 L96.6,499.7 L97.9,501.4 L99.1,499.7 L100.3,503.1 L101.6,506.4 L102.9,503.1 L104.1,504.7 L105.2,499.7 L106.6,501.4 L107.9,506.4 L109.1,508.0 L110.2,506.4 L111.5,509.7 L112.9,518.0 L114.0,521.3 L115.2,523.0 L116.5,521.3 L117.9,524.6 L119.0,526.3 L120.2,529.6 L121.5,528.0 L122.8,532.9 L124.0,526.3 L124.8,518.0 L126.2,516.3 L127.3,518.0 L128.5,519.6 L129.8,518.0 L131.1,519.6 L132.3,518.0 L133.5,513.0 L134.8,508.0 L136.1,508.0 L137.3,509.7 L138.4,508.0 L139.8,509.7 L141.1,504.7 L142.2,503.9 L143.4,503.1 L144.4,501.4 L145.6,504.7 L146.7,508.0 L148.1,513.0 L149.4,514.7 L150.6,509.7 L151.7,503.1 L152.7,496.4 L153.9,489.8 L155.0,491.4 L156.0,493.1 L157.2,483.1 L158.3,473.2 L159.7,464.9 L161.0,459.9 L162.2,461.6 L163.3,464.9 L164.7,458.2 L166.0,456.6 L167.1,458.2 L168.3,461.6 L169.6,473.2 L170.5,479.8 L171.2,465.0 L172.7,463.4 L174.3,463.3 L176.3,452.1 L177.8,440.9 L178.8,437.8 L179.9,427.6 L180.9,425.6 L181.9,433.7 L182.6,443.9 L183.9,448.0 L185.0,443.9 L186.0,428.6 L187.0,424.6 L188.0,421.5 L188.7,410.3 L189.8,406.7 L191.1,408.2 L192.1,412.3 L192.8,425.6 L193.4,445.9 L194.1,494.6 L195.0,492.9 L195.8,489.6 L196.6,482.9 L197.4,476.3 L198.3,479.6 L199.1,473.0 L199.9,469.6 L200.8,468.0 L201.6,466.3 L202.4,468.0 L203.2,471.3 L204.1,476.3 L204.9,473.0 L205.7,476.3 L206.6,482.9 L207.4,476.3 L208.2,469.6 L209.1,471.3 L209.9,473.0 L210.7,469.6 L211.6,479.6 L212.4,473.0 L213.2,471.3 L214.0,469.6 L214.9,473.0 L215.7,466.3 L216.5,468.0 L217.4,477.9 L218.2,473.0 L219.0,469.6 L219.8,468.0 L220.7,463.0 L221.5,461.4 L222.3,463.0 L223.2,466.3 L224.0,464.7 L224.8,461.4 L225.7,459.7 L226.5,456.4 L227.3,451.4 L228.2,446.4 L229.0,443.1 L229.8,443.1 L230.6,441.4 L231.5,436.5 L232.3,429.8 L233.1,428.2 L233.9,426.5 L234.8,428.2 L235.6,426.5 L236.4,421.5 L237.3,423.2 L238.1,434.8 L238.9,436.5 L239.8,431.5 L240.6,428.2 L241.4,429.8 L242.2,438.1 L243.1,446.4 L243.9,449.7 L244.7,444.8 L245.6,441.4 L246.4,443.1 L247.2,443.1 L248.1,446.4 L248.9,443.1 L249.7,436.5 L250.6,428.2 L251.4,423.2 L252.2,421.5 L253.0,419.9 L253.9,426.5 L254.7,436.5 L255.5,444.8 L256.4,453.1 L257.2,459.7 L258.0,464.7 L258.9,466.3 L259.7,463.0 L260.5,459.7 L261.3,454.7 L262.2,449.7 L263.0,446.4 L263.8,453.1 L264.6,458.0 L265.5,438.1 L266.3,419.9 L267.1,416.6 L268.0,413.2 L268.8,409.9 L269.6,408.2 L270.5,411.6 L271.3,413.2 L272.1,409.9 L272.9,414.9 L273.8,419.9 L274.6,414.9 L275.4,409.9 L276.3,404.9 L277.1,403.3 L277.9,401.6 L278.8,406.6 L279.6,409.9 L280.4,411.6 L281.2,408.2 L282.1,411.6 L282.9,414.9 L283.7,416.6 L284.6,406.6 L285.4,396.6 L286.2,391.7 L286.9,388.2 L288.2,393.2 L289.5,396.5 L290.7,394.8 L291.8,391.5 L293.2,394.8 L294.5,393.2 L295.7,403.1 L296.8,393.2 L297.8,388.2 L300.1,386.5 L301.5,396.5 L302.8,399.8 L303.9,393.2 L305.1,386.5 L306.4,379.9 L307.8,381.6 L308.9,388.2 L310.1,381.6 L311.4,378.2 L312.8,386.5 L313.9,399.8 L315.1,389.9 L316.4,391.5 L317.7,394.8 L318.9,393.2 L320.1,393.2 L321.4,388.2 L322.7,388.2 L323.9,386.5 L325.0,383.2 L326.4,386.5 L327.7,384.9 L328.9,383.2 L330.0,381.6 L331.0,381.6 L332.2,386.5 L333.3,393.2 L334.3,406.4 L335.5,399.8 L336.6,404.8 L338.0,401.5 L339.3,408.1 L340.5,404.8 L341.6,399.8 L342.9,393.2 L344.3,391.5 L345.4,396.5 L346.6,394.8 L347.9,398.1 L349.3,403.1 L350.4,408.1 L351.6,401.5 L352.9,393.2 L354.2,388.2 L355.4,383.2 L356.6,378.2 L357.9,373.2 L359.2,368.3 L359.9,364.0 L361.2,357.9 L362.4,354.6 L363.6,357.9 L364.9,351.2 L366.2,345.4 L367.4,344.6 L368.5,342.9 L369.5,337.9 L370.7,331.3 L371.9,328.0 L372.9,336.3 L374.0,342.9 L374.9,319.7 L375.7,313.1 L376.8,319.7 L377.8,324.7 L379.0,328.0 L380.2,329.6 L381.1,311.4 L382.3,308.1 L383.1,313.1 L384.0,321.4 L384.8,337.9 L385.6,336.3 L386.5,326.3 L387.3,328.0 L388.1,329.6 L388.9,313.1 L389.8,308.1 L390.6,304.8 L391.4,299.8 L392.3,284.9 L393.1,283.2 L393.9,291.5 L394.8,276.6 L396.1,271.6 L397.2,261.6 L398.4,260.0 L399.4,268.2 L400.1,283.2 L401.1,298.1 L401.7,276.6 L402.5,254.0 L403.6,232.9 L404.6,229.6 L405.8,239.6 L406.9,211.4 L407.9,209.7 L409.1,232.9 L410.3,208.0 L411.3,208.0 L412.3,237.9 L413.2,214.7 L414.6,206.4 L415.7,206.4 L416.9,226.3 L417.9,219.7 L419.1,198.1 L419.9,172.9 L421.2,159.7 L422.4,156.3 L423.5,158.0 L424.5,177.9 L425.7,186.2 L426.5,166.3 L427.4,149.7 L428.2,143.1 L429.0,149.7 L429.9,172.9 L430.7,186.2 L431.5,251.2 L432.3,247.9 L433.2,239.6 L434.0,239.6 L434.5,214.7 L435.2,176.2 L436.1,154.7 L437.3,149.7 L438.1,129.8 L439.0,128.1 L439.8,138.1 L440.6,151.4 L441.8,149.7 L442.8,134.8 L443.5,121.5 L444.4,106.5 L445.6,104.9 L446.4,113.2 L447.3,134.8 L448.1,139.7 L448.9,123.2 L449.8,104.9 L450.6,101.6 L451.4,113.2 L452.2,133.1 L453.1,149.7 L453.9,159.7 L454.7,166.3 L455.6,174.6 L456.4,158.0 L457.2,129.8 L458.1,109.9 L458.9,106.5 L459.7,98.2 L460.6,94.9 L461.4,104.9 L462.2,129.8 L463.0,144.7 L463.9,126.5 L464.7,96.6 L465.5,91.6 L466.4,104.9 L467.2,138.1 L468.0,149.7 L468.9,167.9 L469.7,146.4 L470.5,126.5 L471.3,116.5 L472.2,114.8 L473.0,129.8 L473.8,149.7 L474.6,121.5 L475.5,116.5 L476.3,129.8 L477.1,149.7 L478.0,154.7 L478.8,163.0 L479.6,176.2 L480.5,182.9 L481.3,186.2 L482.1,203.1 L482.9,199.7 L483.8,198.1 L484.6,213.0 L485.4,219.7 L486.3,231.3 L487.1,242.9 L487.9,254.0 L488.2,286.5 L489.0,273.2 L489.9,232.9 L490.9,229.6 L492.1,246.2 L492.3,266.6 L493.5,271.5 L494.8,274.9 L496.1,281.5 L496.8,298.1 L497.3,318.0 L497.8,337.9 L498.5,326.3 L499.4,306.4 L500.6,294.8 L501.8,294.8 L503.1,296.4 L504.4,294.8 L505.6,313.0 L506.4,314.7 L507.2,298.1 L508.4,294.8 L509.4,303.1 L510.6,313.0 L511.7,323.0 L513.1,326.3 L513.9,339.6 L514.7,354.0 L514.8,340.0 L515.1,376.5 L515.6,393.1 L516.5,406.4 L517.3,389.8 L518.1,364.9 L519.0,373.2 L519.8,403.1 L520.6,416.3 L521.4,406.4 L522.3,386.5 L523.1,381.5 L523.9,378.2 L525.1,386.5 L526.1,381.5 L527.2,393.1 L528.1,406.4 L528.9,416.3 L529.7,419.6 L530.6,409.7 L531.4,403.1 L532.2,396.4 L533.1,389.8 L533.9,383.1 L533.9,373.6 L535.4,360.9 L536.8,365.8 L538.3,369.7 L539.8,358.9 L541.2,357.0 L542.7,353.1 L544.2,350.2 L545.6,349.2 L546.6,342.3 L547.6,334.5 L548.5,327.7 L549.5,326.7 L551.0,326.7 L552.0,330.6 L553.0,342.3 L553.9,334.5 L554.9,332.6 L555.6,354.1 L556.4,342.3 L557.8,340.4 L558.8,347.2 L559.8,356.0 L560.8,366.8 L561.7,361.9 L562.7,352.1 L563.7,352.1 L564.7,363.8 L565.6,361.9 L566.6,340.4 L567.6,336.5 L568.6,335.5 L569.5,337.5 L570.5,346.2 L571.5,340.4 L573.0,332.6 L574.0,334.5 L574.9,347.2 L575.9,356.0 L576.9,352.1 L577.9,347.2 L578.8,344.3 L579.8,342.3 L580.8,339.4 L581.8,336.5 L582.7,337.5 L583.7,340.4 L584.6,344.8 L585.8,343.1 L586.6,354.7 L587.5,351.4 L588.3,343.1 L589.6,339.8 L590.8,336.5 L591.9,333.2 L593.2,338.1 L594.6,334.8 L595.7,336.5 L596.9,343.1 L598.2,333.2 L599.6,334.8 L600.7,348.1 L601.9,358.1 L602.9,361.4 L604.0,356.4 L605.2,351.4 L606.5,348.1 L607.9,339.8 L609.0,334.8 L610.2,328.2 L611.5,326.5 L612.8,324.9 L614.0,328.2 L615.2,321.6 L616.1,319.9 L617.3,329.9 L618.1,334.8 L619.0,324.9 L619.8,318.2 L620.6,313.2 L621.5,311.6 L622.3,309.9 L623.1,311.6 L624.0,316.6 L624.8,321.6 L625.6,328.2 L626.4,336.5 L627.3,338.1 L628.1,331.5 L628.9,323.2 L629.8,316.6 L630.6,318.2 L631.4,321.6 L632.2,328.2 L633.1,331.5 L633.9,326.5 L634.7,333.2 L635.6,343.1 L636.4,353.1 L637.2,361.4 L637.7,374.6 L638.4,378.0 L638.9,368.0 L639.7,371.3 L640.5,364.7 L641.4,363.0 L642.2,368.0 L643.0,359.7 L643.9,359.7 L644.7,371.3 L645.5,378.0 L646.4,384.6 L647.2,392.9 L648.0,389.6 L648.9,397.9 L649.7,391.2 L650.5,397.9 L651.3,404.5 L652.4,446.5 L653.2,463.1 L654.1,478.0 L654.9,496.2 L655.7,504.6 L656.5,492.9 L657.4,481.3 L658.2,489.6 L659.0,496.2 L660.8,536.2 L662.0,520.0 L663.2,499.6 L664.0,492.9 L664.9,486.3 L665.7,481.3 L666.5,486.3 L667.3,491.3 L668.2,483.0 L669.0,473.0 L669.8,469.7 L670.7,464.7 L671.5,459.7 L672.3,456.4 L673.1,451.4 L674.0,449.8 L674.8,448.1 L675.6,453.1 L676.5,449.8 L677.3,444.8 L678.1,441.5 L679.0,439.8 L679.8,443.1 L680.6,449.8 L681.4,454.8 L682.3,446.5 L683.1,436.5 L683.9,431.5 L684.8,426.6 L685.6,424.9 L686.4,428.2 L687.2,438.2 L688.1,454.8 L688.9,459.7 L689.7,464.7 L690.6,449.8 L691.4,444.8 L692.2,446.5 L693.1,456.4 L693.9,448.1 L694.7,441.5 L695.5,438.2 L696.4,433.2 L697.2,428.2 L698.0,426.6 L698.9,423.2 L699.7,418.2 L700.5,416.6 L701.4,413.3 L702.2,408.3 L703.0,405.0 L703.9,410.0 L704.7,414.9 L705.5,411.6 L706.3,408.3 L707.2,405.0 L708.0,403.3 L708.8,411.6 L709.6,419.9 L710.5,413.3 L711.3,411.6 L712.1,413.3 L713.0,421.6 L713.8,431.5 L714.3,443.1 L715.0,454.8 L716.0,461.4 L716.6,463.1 L717.1,449.8 L718.0,441.5 L718.8,436.5 L719.6,434.9 L720.4,444.8 L721.3,448.1 L722.1,439.8 L722.9,431.5 L723.8,426.6 L724.6,421.6 L725.4,418.2 L726.2,413.3 L727.1,411.6 L727.9,413.3 L728.7,416.6 L729.6,429.9 L730.4,438.2 L731.2,441.5 L732.1,433.2 L732.9,429.9 L733.7,426.6 L734.5,421.6 L735.4,419.9 L736.2,421.6 L737.0,418.2 L737.9,414.9 L738.7,416.6 L739.5,421.6 L740.4,424.9 L741.2,429.9 L742.0,431.5 L742.8,428.2 L744.0,424.9 L744.1,416.2 L745.0,412.9 L745.8,416.2 L746.6,411.3 L747.5,406.3 L748.3,404.6 L749.1,406.3 L750.0,403.0 L750.8,398.0 L751.6,391.4 L752.5,389.7 L753.3,396.3 L754.1,406.3 L754.9,409.6 L755.8,398.0 L756.6,389.7 L757.4,388.0 L758.2,394.7 L759.1,401.3 L759.9,396.3 L760.7,391.4 L761.6,384.7 L762.4,379.7 L763.2,378.1 L764.1,376.4 L764.9,374.8 L765.7,373.1 L766.5,374.8 L767.4,379.7 L768.2,389.7 L769.0,383.1 L769.9,369.8 L770.7,371.4 L771.5,376.4 L772.4,379.7 L773.2,374.8 L774.0,371.4 L774.9,366.5 L775.7,363.1 L776.5,361.5 L777.3,364.8 L778.2,366.5 L779.0,361.5 L779.8,359.8 L780.7,361.5 L781.5,368.1 L782.3,374.8 L783.1,383.1 L784.0,363.1 L784.8,356.5 L785.6,354.9 L786.5,361.5 L787.3,366.5 L788.1,358.2 L789.0,354.9 L789.8,353.2 L790.6,351.5 L791.4,349.9 L792.3,353.2 L793.1,356.5 L793.9,354.9 L794.8,353.2 L795.6,351.5 L796.4,354.9 L797.2,356.5 L798.1,361.5 L798.9,364.8 L799.7,363.1 L800.6,358.2 L801.4,361.5 L802.2,369.8 L802.7,378.1 L803.1,389.7 L803.9,396.3 L804.7,383.1 L805.5,369.8 L806.4,366.5 L807.2,369.8 L808.0,374.8 L808.9,373.1 L809.7,378.1 L810.5,386.4 L811.4,399.6 L812.2,407.9 L813.0,399.6 L813.9,386.4 L814.7,378.1 L815.5,374.8 L816.3,373.1 L817.2,376.4 L818.0,374.8 L818.8,373.1 L819.6,381.4 L820.5,386.4 L821.3,373.1 L822.1,366.5 L823.0,363.1 L823.8,364.8 L824.6,366.5 L825.5,369.8 L826.3,371.4 L827.1,373.1 L828.0,374.8 L828.8,371.4 L829.6,364.8 L830.4,359.8 L831.3,358.2 L832.1,356.5 L832.9,354.9 L833.8,351.5 L834.6,344.9 L835.4,343.2 L836.2,344.9 L837.1,348.2 L837.9,348.2 L838.7,343.2 L839.6,339.9 L840.4,336.6 L841.2,334.9 L842.1,338.2 L842.9,336.6 L843.7,334.9 L844.5,336.6 L845.4,339.9 L846.2,338.2 L847.0,333.3 L847.9,330.0 L848.7,326.6 L849.5,325.0 L850.4,323.3 L851.2,321.7 L852.0,320.0 L852.5,309.8 L853.3,303.2 L854.1,294.9 L855.0,291.6 L855.8,303.2 L856.6,318.1 L857.5,303.2 L858.3,303.2 L859.1,319.8 L859.6,329.7 L860.3,321.4 L860.8,316.5 L861.6,318.1 L862.4,309.8 L863.2,308.2 L864.1,314.8 L864.9,313.1 L865.7,306.5 L866.6,301.5 L867.4,296.6 L868.2,294.9 L869.1,294.9 L869.9,299.9 L870.7,311.5 L871.5,324.8 L872.4,316.5 L873.2,316.5 L874.0,319.8 L874.5,344.7 L874.9,374.6 L875.4,361.3 L875.9,343.0 L876.5,333.1 L877.4,328.1 L878.2,323.1 L879.0,319.8 L879.9,316.5 L880.7,313.1 L881.5,308.2 L882.3,309.8 L883.2,316.5 L884.0,331.4 L884.8,321.4 L885.7,313.1 L886.5,308.2 L887.3,303.2 L888.1,304.9 L889.0,321.4 L889.8,319.8 L890.6,316.5 L891.5,314.8 L892.3,313.1 L893.1,306.5 L894.0,301.5 L894.8,298.2 L895.6,294.9 L896.4,289.9 L897.3,286.6 L898.1,283.3 L898.9,280.0 L899.8,278.3 L900.6,286.6 L901.1,311.5 L901.4,339.7 L901.5,392.0 L902.0,420.6 L902.8,369.6 L903.4,353.0 L904.4,343.0 L905.6,333.1 L906.4,316.5 L907.2,303.2 L908.1,306.5 L908.9,319.8 L909.4,303.2 L910.0,294.9 L910.5,286.6 L911.4,278.3 L912.2,275.0 L913.0,293.2 L913.9,283.3 L914.7,273.3 L915.5,298.2 L916.4,289.9 L917.2,270.0 L918.1,244.6 L918.9,237.9 L919.7,228.0 L920.6,219.7 L921.4,216.4 L922.2,224.7 L922.7,237.9 L923.4,228.0 L923.9,214.7 L924.7,208.1 L925.5,199.8 L926.4,198.1 L927.2,206.4 L928.0,199.8 L928.9,191.5 L929.7,184.8 L930.5,183.2 L931.4,188.2 L932.2,196.4 L933.0,174.9 L933.9,171.6 L934.7,191.5 L935.5,201.4 L936.0,184.8 L936.7,166.6 L937.3,159.1 L938.0,159.9 L938.8,178.2 L939.6,188.2 L940.5,163.2 L941.3,164.9 L941.8,183.2 L942.3,211.4 L943.0,208.1 L943.5,184.8 L944.1,194.8 L944.6,214.7 L945.5,236.3 L946.0,244.6 L946.6,201.4 L947.3,201.4 L948.0,218.0 L948.8,237.9 L949.6,251.2 L950.6,269.4 L951.8,289.3 L951.3,304.3"/>
<path d="M88.3,521.3 L89.2,516.3 L90.3,516.3 L91.6,511.4 L93.0,509.7 L94.1,504.7 L95.3,501.4 L96.6,499.7 L97.9,501.4 L99.1,499.7 L100.3,503.1 L101.6,506.4 L102.9,503.1 L104.1,504.7 L105.2,499.7 L106.6,501.4 L107.9,506.4 L109.1,508.0 L110.2,506.4 L111.5,509.7 L112.9,518.0 L114.0,521.3 L115.2,523.0 L116.5,521.3 L117.9,524.6 L119.0,526.3 L120.2,529.6 L121.5,528.0 L122.8,532.9 L124.0,526.3 L124.8,518.0 L126.2,516.3 L127.3,518.0 L128.5,519.6 L129.8,518.0 L131.1,519.6 L132.3,518.0 L133.5,513.0 L134.8,508.0 L136.1,508.0 L137.3,509.7 L138.4,508.0 L139.8,509.7 L141.1,504.7 L142.2,503.9 L143.4,503.1 L144.4,501.4 L145.6,504.7 L146.7,508.0 L148.1,513.0 L149.4,514.7 L150.6,509.7 L151.7,503.1 L152.7,496.4 L153.9,489.8 L155.0,491.4 L156.0,493.1 L157.2,483.1 L158.3,473.2 L159.7,464.9 L161.0,459.9 L162.2,461.6 L163.3,464.9 L164.7,458.2 L166.0,456.6 L167.1,458.2 L168.3,461.6 L169.6,473.2 L170.5,479.8 L171.2,465.0 L172.7,463.4 L174.3,463.3 L176.3,452.1 L177.8,440.9 L178.8,437.8 L179.9,427.6 L180.9,425.6 L181.9,433.7 L182.6,443.9 L183.9,448.0 L185.0,443.9 L186.0,428.6 L187.0,424.6 L188.0,421.5 L188.7,410.3 L189.8,406.7 L191.1,408.2 L192.1,412.3 L192.8,425.6 L193.4,445.9 L194.1,494.6 L195.0,492.9 L195.8,489.6 L196.6,482.9 L197.4,476.3 L198.3,479.6 L199.1,473.0 L199.9,469.6 L200.8,468.0 L201.6,466.3 L202.4,468.0 L203.2,471.3 L204.1,476.3 L204.9,473.0 L205.7,476.3 L206.6,482.9 L207.4,476.3 L208.2,469.6 L209.1,471.3 L209.9,473.0 L210.7,469.6 L211.6,479.6 L212.4,473.0 L213.2,471.3 L214.0,469.6 L214.9,473.0 L215.7,466.3 L216.5,468.0 L217.4,477.9 L218.2,473.0 L219.0,469.6 L219.8,468.0 L220.7,463.0 L221.5,461.4 L222.3,463.0 L223.2,466.3 L224.0,464.7 L224.8,461.4 L225.7,459.7 L226.5,456.4 L227.3,451.4 L228.2,446.4 L229.0,443.1 L229.8,443.1 L230.6,441.4 L231.5,436.5 L232.3,429.8 L233.1,428.2 L233.9,426.5 L234.8,428.2 L235.6,426.5 L236.4,421.5 L237.3,423.2 L238.1,434.8 L238.9,436.5 L239.8,431.5 L240.6,428.2 L241.4,429.8 L242.2,438.1 L243.1,446.4 L243.9,449.7 L244.7,444.8 L245.6,441.4 L246.4,443.1 L247.2,443.1 L248.1,446.4 L248.9,443.1 L249.7,436.5 L250.6,428.2 L251.4,423.2 L252.2,421.5 L253.0,419.9 L253.9,426.5 L254.7,436.5 L255.5,444.8 L256.4,453.1 L257.2,459.7 L258.0,464.7 L258.9,466.3 L259.7,463.0 L260.5,459.7 L261.3,454.7 L262.2,449.7 L263.0,446.4 L263.8,453.1 L264.6,458.0 L265.5,438.1 L266.3,419.9 L267.1,416.6 L268.0,413.2 L268.8,409.9 L269.6,408.2 L270.5,411.6 L271.3,413.2 L272.1,409.9 L272.9,414.9 L273.8,419.9 L274.6,414.9 L275.4,409.9 L276.3,404.9 L277.1,403.3 L277.9,401.6 L278.8,406.6 L279.6,409.9 L280.4,411.6 L281.2,408.2 L282.1,411.6 L282.9,414.9 L283.7,416.6 L284.6,406.6 L285.4,396.6 L286.2,391.7 L286.9,388.2 L288.2,393.2 L289.5,396.5 L290.7,394.8 L291.8,391.5 L293.2,394.8 L294.5,393.2 L295.7,403.1 L296.8,393.2 L297.8,388.2 L300.1,386.5 L301.5,396.5 L302.8,399.8 L303.9,393.2 L305.1,386.5 L306.4,379.9 L307.8,381.6 L308.9,388.2 L310.1,381.6 L311.4,378.2 L312.8,386.5 L313.9,399.8 L315.1,389.9 L316.4,391.5 L317.7,394.8 L318.9,393.2 L320.1,393.2 L321.4,388.2 L322.7,388.2 L323.9,386.5 L325.0,383.2 L326.4,386.5 L327.7,384.9 L328.9,383.2 L330.0,381.6 L331.0,381.6 L332.2,386.5 L333.3,393.2 L334.3,406.4 L335.5,399.8 L336.6,404.8 L338.0,401.5 L339.3,408.1 L340.5,404.8 L341.6,399.8 L342.9,393.2 L344.3,391.5 L345.4,396.5 L346.6,394.8 L347.9,398.1 L349.3,403.1 L350.4,408.1 L351.6,401.5 L352.9,393.2 L354.2,388.2 L355.4,383.2 L356.6,378.2 L357.9,373.2 L359.2,368.3 L359.9,364.0 L361.2,357.9 L362.4,354.6 L363.6,357.9 L364.9,351.2 L366.2,345.4 L367.4,344.6 L368.5,342.9 L369.5,337.9 L370.7,331.3 L371.9,328.0 L372.9,336.3 L374.0,342.9 L374.9,319.7 L375.7,313.1 L376.8,319.7 L377.8,324.7 L379.0,328.0 L380.2,329.6 L381.1,311.4 L382.3,308.1 L383.1,313.1 L384.0,321.4 L384.8,337.9 L385.6,336.3 L386.5,326.3 L387.3,328.0 L388.1,329.6 L388.9,313.1 L389.8,308.1 L390.6,304.8 L391.4,299.8 L392.3,284.9 L393.1,283.2 L393.9,291.5 L394.8,276.6 L396.1,271.6 L397.2,261.6 L398.4,260.0 L399.4,268.2 L400.1,283.2 L401.1,298.1 L401.7,276.6 L402.5,254.0 L403.6,232.9 L404.6,229.6 L405.8,239.6 L406.9,211.4 L407.9,209.7 L409.1,232.9 L410.3,208.0 L411.3,208.0 L412.3,237.9 L413.2,214.7 L414.6,206.4 L415.7,206.4 L416.9,226.3 L417.9,219.7 L419.1,198.1 L419.9,172.9 L421.2,159.7 L422.4,156.3 L423.5,158.0 L424.5,177.9 L425.7,186.2 L426.5,166.3 L427.4,149.7 L428.2,143.1 L429.0,149.7 L429.9,172.9 L430.7,186.2 L431.5,251.2 L432.3,247.9 L433.2,239.6 L434.0,239.6 L434.5,214.7 L435.2,176.2 L436.1,154.7 L437.3,149.7 L438.1,129.8 L439.0,128.1 L439.8,138.1 L440.6,151.4 L441.8,149.7 L442.8,134.8 L443.5,121.5 L444.4,106.5 L445.6,104.9 L446.4,113.2 L447.3,134.8 L448.1,139.7 L448.9,123.2 L449.8,104.9 L450.6,101.6 L451.4,113.2 L452.2,133.1 L453.1,149.7 L453.9,159.7 L454.7,166.3 L455.6,174.6 L456.4,158.0 L457.2,129.8 L458.1,109.9 L458.9,106.5 L459.7,98.2 L460.6,94.9 L461.4,104.9 L462.2,129.8 L463.0,144.7 L463.9,126.5 L464.7,96.6 L465.5,91.6 L466.4,104.9 L467.2,138.1 L468.0,149.7 L468.9,167.9 L469.7,146.4 L470.5,126.5 L471.3,116.5 L472.2,114.8 L473.0,129.8 L473.8,149.7 L474.6,121.5 L475.5,116.5 L476.3,129.8 L477.1,149.7 L478.0,154.7 L478.8,163.0 L479.6,176.2 L480.5,182.9 L481.3,186.2 L482.1,203.1 L482.9,199.7 L483.8,198.1 L484.6,213.0 L485.4,219.7 L486.3,231.3 L487.1,242.9 L487.9,254.0 L488.2,286.5 L489.0,273.2 L489.9,232.9 L490.9,229.6 L492.1,246.2 L492.3,266.6 L493.5,271.5 L494.8,274.9 L496.1,281.5 L496.8,298.1 L497.3,318.0 L497.8,337.9 L498.5,326.3 L499.4,306.4 L500.6,294.8 L501.8,294.8 L503.1,296.4 L504.4,294.8 L505.6,313.0 L506.4,314.7 L507.2,298.1 L508.4,294.8 L509.4,303.1 L510.6,313.0 L511.7,323.0 L513.1,326.3 L513.9,339.6 L514.7,354.0 L514.8,340.0 L515.1,376.5 L515.6,393.1 L516.5,406.4 L517.3,389.8 L518.1,364.9 L519.0,373.2 L519.8,403.1 L520.6,416.3 L521.4,406.4 L522.3,386.5 L523.1,381.5 L523.9,378.2 L525.1,386.5 L526.1,381.5 L527.2,393.1 L528.1,406.4 L528.9,416.3 L529.7,419.6 L530.6,409.7 L531.4,403.1 L532.2,396.4 L533.1,389.8 L533.9,383.1 L533.9,373.6 L535.4,360.9 L536.8,365.8 L538.3,369.7 L539.8,358.9 L541.2,357.0 L542.7,353.1 L544.2,350.2 L545.6,349.2 L546.6,342.3 L547.6,334.5 L548.5,327.7 L549.5,326.7 L551.0,326.7 L552.0,330.6 L553.0,342.3 L553.9,334.5 L554.9,332.6 L555.6,354.1 L556.4,342.3 L557.8,340.4 L558.8,347.2 L559.8,356.0 L560.8,366.8 L561.7,361.9 L562.7,352.1 L563.7,352.1 L564.7,363.8 L565.6,361.9 L566.6,340.4 L567.6,336.5 L568.6,335.5 L569.5,337.5 L570.5,346.2 L571.5,340.4 L573.0,332.6 L574.0,334.5 L574.9,347.2 L575.9,356.0 L576.9,352.1 L577.9,347.2 L578.8,344.3 L579.8,342.3 L580.8,339.4 L581.8,336.5 L582.7,337.5 L583.7,340.4 L584.6,344.8 L585.8,343.1 L586.6,354.7 L587.5,351.4 L588.3,343.1 L589.6,339.8 L590.8,336.5 L591.9,333.2 L593.2,338.1 L594.6,334.8 L595.7,336.5 L596.9,343.1 L598.2,333.2 L599.6,334.8 L600.7,348.1 L601.9,358.1 L602.9,361.4 L604.0,356.4 L605.2,351.4 L606.5,348.1 L607.9,339.8 L609.0,334.8 L610.2,328.2 L611.5,326.5 L612.8,324.9 L614.0,328.2 L615.2,321.6 L616.1,319.9 L617.3,329.9 L618.1,334.8 L619.0,324.9 L619.8,318.2 L620.6,313.2 L621.5,311.6 L622.3,309.9 L623.1,311.6 L624.0,316.6 L624.8,321.6 L625.6,328.2 L626.4,336.5 L627.3,338.1 L628.1,331.5 L628.9,323.2 L629.8,316.6 L630.6,318.2 L631.4,321.6 L632.2,328.2 L633.1,331.5 L633.9,326.5 L634.7,333.2 L635.6,343.1 L636.4,353.1 L637.2,361.4 L637.7,374.6 L638.4,378.0 L638.9,368.0 L639.7,371.3 L640.5,364.7 L641.4,363.0 L642.2,368.0 L643.0,359.7 L643.9,359.7 L644.7,371.3 L645.5,378.0 L646.4,384.6 L647.2,392.9 L648.0,389.6 L648.9,397.9 L649.7,391.2 L650.5,397.9 L651.3,404.5 L652.4,446.5 L653.2,463.1 L654.1,478.0 L654.9,496.2 L655.7,504.6 L656.5,492.9 L657.4,481.3 L658.2,489.6 L659.0,496.2 L660.8,536.2 L662.0,520.0 L663.2,499.6 L664.0,492.9 L664.9,486.3 L665.7,481.3 L666.5,486.3 L667.3,491.3 L668.2,483.0 L669.0,473.0 L669.8,469.7 L670.7,464.7 L671.5,459.7 L672.3,456.4 L673.1,451.4 L674.0,449.8 L674.8,448.1 L675.6,453.1 L676.5,449.8 L677.3,444.8 L678.1,441.5 L679.0,439.8 L679.8,443.1 L680.6,449.8 L681.4,454.8 L682.3,446.5 L683.1,436.5 L683.9,431.5 L684.8,426.6 L685.6,424.9 L686.4,428.2 L687.2,438.2 L688.1,454.8 L688.9,459.7 L689.7,464.7 L690.6,449.8 L691.4,444.8 L692.2,446.5 L693.1,456.4 L693.9,448.1 L694.7,441.5 L695.5,438.2 L696.4,433.2 L697.2,428.2 L698.0,426.6 L698.9,423.2 L699.7,418.2 L700.5,416.6 L701.4,413.3 L702.2,408.3 L703.0,405.0 L703.9,410.0 L704.7,414.9 L705.5,411.6 L706.3,408.3 L707.2,405.0 L708.0,403.3 L708.8,411.6 L709.6,419.9 L710.5,413.3 L711.3,411.6 L712.1,413.3 L713.0,421.6 L713.8,431.5 L714.3,443.1 L715.0,454.8 L716.0,461.4 L716.6,463.1 L717.1,449.8 L718.0,441.5 L718.8,436.5 L719.6,434.9 L720.4,444.8 L721.3,448.1 L722.1,439.8 L722.9,431.5 L723.8,426.6 L724.6,421.6 L725.4,418.2 L726.2,413.3 L727.1,411.6 L727.9,413.3 L728.7,416.6 L729.6,429.9 L730.4,438.2 L731.2,441.5 L732.1,433.2 L732.9,429.9 L733.7,426.6 L734.5,421.6 L735.4,419.9 L736.2,421.6 L737.0,418.2 L737.9,414.9 L738.7,416.6 L739.5,421.6 L740.4,424.9 L741.2,429.9 L742.0,431.5 L742.8,428.2 L744.0,424.9 L744.1,416.2 L745.0,412.9 L745.8,416.2 L746.6,411.3 L747.5,406.3 L748.3,404.6 L749.1,406.3 L750.0,403.0 L750.8,398.0 L751.6,391.4 L752.5,389.7 L753.3,396.3 L754.1,406.3 L754.9,409.6 L755.8,398.0 L756.6,389.7 L757.4,388.0 L758.2,394.7 L759.1,401.3 L759.9,396.3 L760.7,391.4 L761.6,384.7 L762.4,379.7 L763.2,378.1 L764.1,376.4 L764.9,374.8 L765.7,373.1 L766.5,374.8 L767.4,379.7 L768.2,389.7 L769.0,383.1 L769.9,369.8 L770.7,371.4 L771.5,376.4 L772.4,379.7 L773.2,374.8 L774.0,371.4 L774.9,366.5 L775.7,363.1 L776.5,361.5 L777.3,364.8 L778.2,366.5 L779.0,361.5 L779.8,359.8 L780.7,361.5 L781.5,368.1 L782.3,374.8 L783.1,383.1 L784.0,363.1 L784.8,356.5 L785.6,354.9 L786.5,361.5 L787.3,366.5 L788.1,358.2 L789.0,354.9 L789.8,353.2 L790.6,351.5 L791.4,349.9 L792.3,353.2 L793.1,356.5 L793.9,354.9 L794.8,353.2 L795.6,351.5 L796.4,354.9 L797.2,356.5 L798.1,361.5 L798.9,364.8 L799.7,363.1 L800.6,358.2 L801.4,361.5 L802.2,369.8 L802.7,378.1 L803.1,389.7 L803.9,396.3 L804.7,383.1 L805.5,369.8 L806.4,366.5 L807.2,369.8 L808.0,374.8 L808.9,373.1 L809.7,378.1 L810.5,386.4 L811.4,399.6 L812.2,407.9 L813.0,399.6 L813.9,386.4 L814.7,378.1 L815.5,374.8 L816.3,373.1 L817.2,376.4 L818.0,374.8 L818.8,373.1 L819.6,381.4 L820.5,386.4 L821.3,373.1 L822.1,366.5 L823.0,363.1 L823.8,364.8 L824.6,366.5 L825.5,369.8 L826.3,371.4 L827.1,373.1 L828.0,374.8 L828.8,371.4 L829.6,364.8 L830.4,359.8 L831.3,358.2 L832.1,356.5 L832.9,354.9 L833.8,351.5 L834.6,344.9 L835.4,343.2 L836.2,344.9 L837.1,348.2 L837.9,348.2 L838.7,343.2 L839.6,339.9 L840.4,336.6 L841.2,334.9 L842.1,338.2 L842.9,336.6 L843.7,334.9 L844.5,336.6 L845.4,339.9 L846.2,338.2 L847.0,333.3 L847.9,330.0 L848.7,326.6 L849.5,325.0 L850.4,323.3 L851.2,321.7 L852.0,320.0 L852.5,309.8 L853.3,303.2 L854.1,294.9 L855.0,291.6 L855.8,303.2 L856.6,318.1 L857.5,303.2 L858.3,303.2 L859.1,319.8 L859.6,329.7 L860.3,321.4 L860.8,316.5 L861.6,318.1 L862.4,309.8 L863.2,308.2 L864.1,314.8 L864.9,313.1 L865.7,306.5 L866.6,301.5 L867.4,296.6 L868.2,294.9 L869.1,294.9 L869.9,299.9 L870.7,311.5 L871.5,324.8 L872.4,316.5 L873.2,316.5 L874.0,319.8 L874.5,344.7 L874.9,374.6 L875.4,361.3 L875.9,343.0 L876.5,333.1 L877.4,328.1 L878.2,323.1 L879.0,319.8 L879.9,316.5 L880.7,313.1 L881.5,308.2 L882.3,309.8 L883.2,316.5 L884.0,331.4 L884.8,321.4 L885.7,313.1 L886.5,308.2 L887.3,303.2 L888.1,304.9 L889.0,321.4 L889.8,319.8 L890.6,316.5 L891.5,314.8 L892.3,313.1 L893.1,306.5 L894.0,301.5 L894.8,298.2 L895.6,294.9 L896.4,289.9 L897.3,286.6 L898.1,283.3 L898.9,280.0 L899.8,278.3 L900.6,286.6 L901.1,311.5 L901.4,339.7 L901.5,392.0 L902.0,420.6 L902.8,369.6 L903.4,353.0 L904.4,343.0 L905.6,333.1 L906.4,316.5 L907.2,303.2 L908.1,306.5 L908.9,319.8 L909.4,303.2 L910.0,294.9 L910.5,286.6 L911.4,278.3 L912.2,275.0 L913.0,293.2 L913.9,283.3 L914.7,273.3 L915.5,298.2 L916.4,289.9 L917.2,270.0 L918.1,244.6 L918.9,237.9 L919.7,228.0 L920.6,219.7 L921.4,216.4 L922.2,224.7 L922.7,237.9 L923.4,228.0 L923.9,214.7 L924.7,208.1 L925.5,199.8 L926.4,198.1 L927.2,206.4 L928.0,199.8 L928.9,191.5 L929.7,184.8 L930.5,183.2 L931.4,188.2 L932.2,196.4 L933.0,174.9 L933.9,171.6 L934.7,191.5 L935.5,201.4 L936.0,184.8 L936.7,166.6 L937.3,159.1 L938.0,159.9 L938.8,178.2 L939.6,188.2 L940.5,163.2 L941.3,164.9 L941.8,183.2 L942.3,211.4 L943.0,208.1 L943.5,184.8 L944.1,194.8 L944.6,214.7 L945.5,236.3 L946.0,244.6 L946.6,201.4 L947.3,201.4 L948.0,218.0 L948.8,237.9 L949.6,251.2 L950.6,269.4 L951.8,289.3 L951.3,304.3"/>
<path transform="translate(0 1.3)" d="M88.3,521.3 L89.2,516.3 L90.3,516.3 L91.6,511.4 L93.0,509.7 L94.1,504.7 L95.3,501.4 L96.6,499.7 L97.9,501.4 L99.1,499.7 L100.3,503.1 L101.6,506.4 L102.9,503.1 L104.1,504.7 L105.2,499.7 L106.6,501.4 L107.9,506.4 L109.1,508.0 L110.2,506.4 L111.5,509.7 L112.9,518.0 L114.0,521.3 L115.2,523.0 L116.5,521.3 L117.9,524.6 L119.0,526.3 L120.2,529.6 L121.5,528.0 L122.8,532.9 L124.0,526.3 L124.8,518.0 L126.2,516.3 L127.3,518.0 L128.5,519.6 L129.8,518.0 L131.1,519.6 L132.3,518.0 L133.5,513.0 L134.8,508.0 L136.1,508.0 L137.3,509.7 L138.4,508.0 L139.8,509.7 L141.1,504.7 L142.2,503.9 L143.4,503.1 L144.4,501.4 L145.6,504.7 L146.7,508.0 L148.1,513.0 L149.4,514.7 L150.6,509.7 L151.7,503.1 L152.7,496.4 L153.9,489.8 L155.0,491.4 L156.0,493.1 L157.2,483.1 L158.3,473.2 L159.7,464.9 L161.0,459.9 L162.2,461.6 L163.3,464.9 L164.7,458.2 L166.0,456.6 L167.1,458.2 L168.3,461.6 L169.6,473.2 L170.5,479.8 L171.2,465.0 L172.7,463.4 L174.3,463.3 L176.3,452.1 L177.8,440.9 L178.8,437.8 L179.9,427.6 L180.9,425.6 L181.9,433.7 L182.6,443.9 L183.9,448.0 L185.0,443.9 L186.0,428.6 L187.0,424.6 L188.0,421.5 L188.7,410.3 L189.8,406.7 L191.1,408.2 L192.1,412.3 L192.8,425.6 L193.4,445.9 L194.1,494.6 L195.0,492.9 L195.8,489.6 L196.6,482.9 L197.4,476.3 L198.3,479.6 L199.1,473.0 L199.9,469.6 L200.8,468.0 L201.6,466.3 L202.4,468.0 L203.2,471.3 L204.1,476.3 L204.9,473.0 L205.7,476.3 L206.6,482.9 L207.4,476.3 L208.2,469.6 L209.1,471.3 L209.9,473.0 L210.7,469.6 L211.6,479.6 L212.4,473.0 L213.2,471.3 L214.0,469.6 L214.9,473.0 L215.7,466.3 L216.5,468.0 L217.4,477.9 L218.2,473.0 L219.0,469.6 L219.8,468.0 L220.7,463.0 L221.5,461.4 L222.3,463.0 L223.2,466.3 L224.0,464.7 L224.8,461.4 L225.7,459.7 L226.5,456.4 L227.3,451.4 L228.2,446.4 L229.0,443.1 L229.8,443.1 L230.6,441.4 L231.5,436.5 L232.3,429.8 L233.1,428.2 L233.9,426.5 L234.8,428.2 L235.6,426.5 L236.4,421.5 L237.3,423.2 L238.1,434.8 L238.9,436.5 L239.8,431.5 L240.6,428.2 L241.4,429.8 L242.2,438.1 L243.1,446.4 L243.9,449.7 L244.7,444.8 L245.6,441.4 L246.4,443.1 L247.2,443.1 L248.1,446.4 L248.9,443.1 L249.7,436.5 L250.6,428.2 L251.4,423.2 L252.2,421.5 L253.0,419.9 L253.9,426.5 L254.7,436.5 L255.5,444.8 L256.4,453.1 L257.2,459.7 L258.0,464.7 L258.9,466.3 L259.7,463.0 L260.5,459.7 L261.3,454.7 L262.2,449.7 L263.0,446.4 L263.8,453.1 L264.6,458.0 L265.5,438.1 L266.3,419.9 L267.1,416.6 L268.0,413.2 L268.8,409.9 L269.6,408.2 L270.5,411.6 L271.3,413.2 L272.1,409.9 L272.9,414.9 L273.8,419.9 L274.6,414.9 L275.4,409.9 L276.3,404.9 L277.1,403.3 L277.9,401.6 L278.8,406.6 L279.6,409.9 L280.4,411.6 L281.2,408.2 L282.1,411.6 L282.9,414.9 L283.7,416.6 L284.6,406.6 L285.4,396.6 L286.2,391.7 L286.9,388.2 L288.2,393.2 L289.5,396.5 L290.7,394.8 L291.8,391.5 L293.2,394.8 L294.5,393.2 L295.7,403.1 L296.8,393.2 L297.8,388.2 L300.1,386.5 L301.5,396.5 L302.8,399.8 L303.9,393.2 L305.1,386.5 L306.4,379.9 L307.8,381.6 L308.9,388.2 L310.1,381.6 L311.4,378.2 L312.8,386.5 L313.9,399.8 L315.1,389.9 L316.4,391.5 L317.7,394.8 L318.9,393.2 L320.1,393.2 L321.4,388.2 L322.7,388.2 L323.9,386.5 L325.0,383.2 L326.4,386.5 L327.7,384.9 L328.9,383.2 L330.0,381.6 L331.0,381.6 L332.2,386.5 L333.3,393.2 L334.3,406.4 L335.5,399.8 L336.6,404.8 L338.0,401.5 L339.3,408.1 L340.5,404.8 L341.6,399.8 L342.9,393.2 L344.3,391.5 L345.4,396.5 L346.6,394.8 L347.9,398.1 L349.3,403.1 L350.4,408.1 L351.6,401.5 L352.9,393.2 L354.2,388.2 L355.4,383.2 L356.6,378.2 L357.9,373.2 L359.2,368.3 L359.9,364.0 L361.2,357.9 L362.4,354.6 L363.6,357.9 L364.9,351.2 L366.2,345.4 L367.4,344.6 L368.5,342.9 L369.5,337.9 L370.7,331.3 L371.9,328.0 L372.9,336.3 L374.0,342.9 L374.9,319.7 L375.7,313.1 L376.8,319.7 L377.8,324.7 L379.0,328.0 L380.2,329.6 L381.1,311.4 L382.3,308.1 L383.1,313.1 L384.0,321.4 L384.8,337.9 L385.6,336.3 L386.5,326.3 L387.3,328.0 L388.1,329.6 L388.9,313.1 L389.8,308.1 L390.6,304.8 L391.4,299.8 L392.3,284.9 L393.1,283.2 L393.9,291.5 L394.8,276.6 L396.1,271.6 L397.2,261.6 L398.4,260.0 L399.4,268.2 L400.1,283.2 L401.1,298.1 L401.7,276.6 L402.5,254.0 L403.6,232.9 L404.6,229.6 L405.8,239.6 L406.9,211.4 L407.9,209.7 L409.1,232.9 L410.3,208.0 L411.3,208.0 L412.3,237.9 L413.2,214.7 L414.6,206.4 L415.7,206.4 L416.9,226.3 L417.9,219.7 L419.1,198.1 L419.9,172.9 L421.2,159.7 L422.4,156.3 L423.5,158.0 L424.5,177.9 L425.7,186.2 L426.5,166.3 L427.4,149.7 L428.2,143.1 L429.0,149.7 L429.9,172.9 L430.7,186.2 L431.5,251.2 L432.3,247.9 L433.2,239.6 L434.0,239.6 L434.5,214.7 L435.2,176.2 L436.1,154.7 L437.3,149.7 L438.1,129.8 L439.0,128.1 L439.8,138.1 L440.6,151.4 L441.8,149.7 L442.8,134.8 L443.5,121.5 L444.4,106.5 L445.6,104.9 L446.4,113.2 L447.3,134.8 L448.1,139.7 L448.9,123.2 L449.8,104.9 L450.6,101.6 L451.4,113.2 L452.2,133.1 L453.1,149.7 L453.9,159.7 L454.7,166.3 L455.6,174.6 L456.4,158.0 L457.2,129.8 L458.1,109.9 L458.9,106.5 L459.7,98.2 L460.6,94.9 L461.4,104.9 L462.2,129.8 L463.0,144.7 L463.9,126.5 L464.7,96.6 L465.5,91.6 L466.4,104.9 L467.2,138.1 L468.0,149.7 L468.9,167.9 L469.7,146.4 L470.5,126.5 L471.3,116.5 L472.2,114.8 L473.0,129.8 L473.8,149.7 L474.6,121.5 L475.5,116.5 L476.3,129.8 L477.1,149.7 L478.0,154.7 L478.8,163.0 L479.6,176.2 L480.5,182.9 L481.3,186.2 L482.1,203.1 L482.9,199.7 L483.8,198.1 L484.6,213.0 L485.4,219.7 L486.3,231.3 L487.1,242.9 L487.9,254.0 L488.2,286.5 L489.0,273.2 L489.9,232.9 L490.9,229.6 L492.1,246.2 L492.3,266.6 L493.5,271.5 L494.8,274.9 L496.1,281.5 L496.8,298.1 L497.3,318.0 L497.8,337.9 L498.5,326.3 L499.4,306.4 L500.6,294.8 L501.8,294.8 L503.1,296.4 L504.4,294.8 L505.6,313.0 L506.4,314.7 L507.2,298.1 L508.4,294.8 L509.4,303.1 L510.6,313.0 L511.7,323.0 L513.1,326.3 L513.9,339.6 L514.7,354.0 L514.8,340.0 L515.1,376.5 L515.6,393.1 L516.5,406.4 L517.3,389.8 L518.1,364.9 L519.0,373.2 L519.8,403.1 L520.6,416.3 L521.4,406.4 L522.3,386.5 L523.1,381.5 L523.9,378.2 L525.1,386.5 L526.1,381.5 L527.2,393.1 L528.1,406.4 L528.9,416.3 L529.7,419.6 L530.6,409.7 L531.4,403.1 L532.2,396.4 L533.1,389.8 L533.9,383.1 L533.9,373.6 L535.4,360.9 L536.8,365.8 L538.3,369.7 L539.8,358.9 L541.2,357.0 L542.7,353.1 L544.2,350.2 L545.6,349.2 L546.6,342.3 L547.6,334.5 L548.5,327.7 L549.5,326.7 L551.0,326.7 L552.0,330.6 L553.0,342.3 L553.9,334.5 L554.9,332.6 L555.6,354.1 L556.4,342.3 L557.8,340.4 L558.8,347.2 L559.8,356.0 L560.8,366.8 L561.7,361.9 L562.7,352.1 L563.7,352.1 L564.7,363.8 L565.6,361.9 L566.6,340.4 L567.6,336.5 L568.6,335.5 L569.5,337.5 L570.5,346.2 L571.5,340.4 L573.0,332.6 L574.0,334.5 L574.9,347.2 L575.9,356.0 L576.9,352.1 L577.9,347.2 L578.8,344.3 L579.8,342.3 L580.8,339.4 L581.8,336.5 L582.7,337.5 L583.7,340.4 L584.6,344.8 L585.8,343.1 L586.6,354.7 L587.5,351.4 L588.3,343.1 L589.6,339.8 L590.8,336.5 L591.9,333.2 L593.2,338.1 L594.6,334.8 L595.7,336.5 L596.9,343.1 L598.2,333.2 L599.6,334.8 L600.7,348.1 L601.9,358.1 L602.9,361.4 L604.0,356.4 L605.2,351.4 L606.5,348.1 L607.9,339.8 L609.0,334.8 L610.2,328.2 L611.5,326.5 L612.8,324.9 L614.0,328.2 L615.2,321.6 L616.1,319.9 L617.3,329.9 L618.1,334.8 L619.0,324.9 L619.8,318.2 L620.6,313.2 L621.5,311.6 L622.3,309.9 L623.1,311.6 L624.0,316.6 L624.8,321.6 L625.6,328.2 L626.4,336.5 L627.3,338.1 L628.1,331.5 L628.9,323.2 L629.8,316.6 L630.6,318.2 L631.4,321.6 L632.2,328.2 L633.1,331.5 L633.9,326.5 L634.7,333.2 L635.6,343.1 L636.4,353.1 L637.2,361.4 L637.7,374.6 L638.4,378.0 L638.9,368.0 L639.7,371.3 L640.5,364.7 L641.4,363.0 L642.2,368.0 L643.0,359.7 L643.9,359.7 L644.7,371.3 L645.5,378.0 L646.4,384.6 L647.2,392.9 L648.0,389.6 L648.9,397.9 L649.7,391.2 L650.5,397.9 L651.3,404.5 L652.4,446.5 L653.2,463.1 L654.1,478.0 L654.9,496.2 L655.7,504.6 L656.5,492.9 L657.4,481.3 L658.2,489.6 L659.0,496.2 L660.8,536.2 L662.0,520.0 L663.2,499.6 L664.0,492.9 L664.9,486.3 L665.7,481.3 L666.5,486.3 L667.3,491.3 L668.2,483.0 L669.0,473.0 L669.8,469.7 L670.7,464.7 L671.5,459.7 L672.3,456.4 L673.1,451.4 L674.0,449.8 L674.8,448.1 L675.6,453.1 L676.5,449.8 L677.3,444.8 L678.1,441.5 L679.0,439.8 L679.8,443.1 L680.6,449.8 L681.4,454.8 L682.3,446.5 L683.1,436.5 L683.9,431.5 L684.8,426.6 L685.6,424.9 L686.4,428.2 L687.2,438.2 L688.1,454.8 L688.9,459.7 L689.7,464.7 L690.6,449.8 L691.4,444.8 L692.2,446.5 L693.1,456.4 L693.9,448.1 L694.7,441.5 L695.5,438.2 L696.4,433.2 L697.2,428.2 L698.0,426.6 L698.9,423.2 L699.7,418.2 L700.5,416.6 L701.4,413.3 L702.2,408.3 L703.0,405.0 L703.9,410.0 L704.7,414.9 L705.5,411.6 L706.3,408.3 L707.2,405.0 L708.0,403.3 L708.8,411.6 L709.6,419.9 L710.5,413.3 L711.3,411.6 L712.1,413.3 L713.0,421.6 L713.8,431.5 L714.3,443.1 L715.0,454.8 L716.0,461.4 L716.6,463.1 L717.1,449.8 L718.0,441.5 L718.8,436.5 L719.6,434.9 L720.4,444.8 L721.3,448.1 L722.1,439.8 L722.9,431.5 L723.8,426.6 L724.6,421.6 L725.4,418.2 L726.2,413.3 L727.1,411.6 L727.9,413.3 L728.7,416.6 L729.6,429.9 L730.4,438.2 L731.2,441.5 L732.1,433.2 L732.9,429.9 L733.7,426.6 L734.5,421.6 L735.4,419.9 L736.2,421.6 L737.0,418.2 L737.9,414.9 L738.7,416.6 L739.5,421.6 L740.4,424.9 L741.2,429.9 L742.0,431.5 L742.8,428.2 L744.0,424.9 L744.1,416.2 L745.0,412.9 L745.8,416.2 L746.6,411.3 L747.5,406.3 L748.3,404.6 L749.1,406.3 L750.0,403.0 L750.8,398.0 L751.6,391.4 L752.5,389.7 L753.3,396.3 L754.1,406.3 L754.9,409.6 L755.8,398.0 L756.6,389.7 L757.4,388.0 L758.2,394.7 L759.1,401.3 L759.9,396.3 L760.7,391.4 L761.6,384.7 L762.4,379.7 L763.2,378.1 L764.1,376.4 L764.9,374.8 L765.7,373.1 L766.5,374.8 L767.4,379.7 L768.2,389.7 L769.0,383.1 L769.9,369.8 L770.7,371.4 L771.5,376.4 L772.4,379.7 L773.2,374.8 L774.0,371.4 L774.9,366.5 L775.7,363.1 L776.5,361.5 L777.3,364.8 L778.2,366.5 L779.0,361.5 L779.8,359.8 L780.7,361.5 L781.5,368.1 L782.3,374.8 L783.1,383.1 L784.0,363.1 L784.8,356.5 L785.6,354.9 L786.5,361.5 L787.3,366.5 L788.1,358.2 L789.0,354.9 L789.8,353.2 L790.6,351.5 L791.4,349.9 L792.3,353.2 L793.1,356.5 L793.9,354.9 L794.8,353.2 L795.6,351.5 L796.4,354.9 L797.2,356.5 L798.1,361.5 L798.9,364.8 L799.7,363.1 L800.6,358.2 L801.4,361.5 L802.2,369.8 L802.7,378.1 L803.1,389.7 L803.9,396.3 L804.7,383.1 L805.5,369.8 L806.4,366.5 L807.2,369.8 L808.0,374.8 L808.9,373.1 L809.7,378.1 L810.5,386.4 L811.4,399.6 L812.2,407.9 L813.0,399.6 L813.9,386.4 L814.7,378.1 L815.5,374.8 L816.3,373.1 L817.2,376.4 L818.0,374.8 L818.8,373.1 L819.6,381.4 L820.5,386.4 L821.3,373.1 L822.1,366.5 L823.0,363.1 L823.8,364.8 L824.6,366.5 L825.5,369.8 L826.3,371.4 L827.1,373.1 L828.0,374.8 L828.8,371.4 L829.6,364.8 L830.4,359.8 L831.3,358.2 L832.1,356.5 L832.9,354.9 L833.8,351.5 L834.6,344.9 L835.4,343.2 L836.2,344.9 L837.1,348.2 L837.9,348.2 L838.7,343.2 L839.6,339.9 L840.4,336.6 L841.2,334.9 L842.1,338.2 L842.9,336.6 L843.7,334.9 L844.5,336.6 L845.4,339.9 L846.2,338.2 L847.0,333.3 L847.9,330.0 L848.7,326.6 L849.5,325.0 L850.4,323.3 L851.2,321.7 L852.0,320.0 L852.5,309.8 L853.3,303.2 L854.1,294.9 L855.0,291.6 L855.8,303.2 L856.6,318.1 L857.5,303.2 L858.3,303.2 L859.1,319.8 L859.6,329.7 L860.3,321.4 L860.8,316.5 L861.6,318.1 L862.4,309.8 L863.2,308.2 L864.1,314.8 L864.9,313.1 L865.7,306.5 L866.6,301.5 L867.4,296.6 L868.2,294.9 L869.1,294.9 L869.9,299.9 L870.7,311.5 L871.5,324.8 L872.4,316.5 L873.2,316.5 L874.0,319.8 L874.5,344.7 L874.9,374.6 L875.4,361.3 L875.9,343.0 L876.5,333.1 L877.4,328.1 L878.2,323.1 L879.0,319.8 L879.9,316.5 L880.7,313.1 L881.5,308.2 L882.3,309.8 L883.2,316.5 L884.0,331.4 L884.8,321.4 L885.7,313.1 L886.5,308.2 L887.3,303.2 L888.1,304.9 L889.0,321.4 L889.8,319.8 L890.6,316.5 L891.5,314.8 L892.3,313.1 L893.1,306.5 L894.0,301.5 L894.8,298.2 L895.6,294.9 L896.4,289.9 L897.3,286.6 L898.1,283.3 L898.9,280.0 L899.8,278.3 L900.6,286.6 L901.1,311.5 L901.4,339.7 L901.5,392.0 L902.0,420.6 L902.8,369.6 L903.4,353.0 L904.4,343.0 L905.6,333.1 L906.4,316.5 L907.2,303.2 L908.1,306.5 L908.9,319.8 L909.4,303.2 L910.0,294.9 L910.5,286.6 L911.4,278.3 L912.2,275.0 L913.0,293.2 L913.9,283.3 L914.7,273.3 L915.5,298.2 L916.4,289.9 L917.2,270.0 L918.1,244.6 L918.9,237.9 L919.7,228.0 L920.6,219.7 L921.4,216.4 L922.2,224.7 L922.7,237.9 L923.4,228.0 L923.9,214.7 L924.7,208.1 L925.5,199.8 L926.4,198.1 L927.2,206.4 L928.0,199.8 L928.9,191.5 L929.7,184.8 L930.5,183.2 L931.4,188.2 L932.2,196.4 L933.0,174.9 L933.9,171.6 L934.7,191.5 L935.5,201.4 L936.0,184.8 L936.7,166.6 L937.3,159.1 L938.0,159.9 L938.8,178.2 L939.6,188.2 L940.5,163.2 L941.3,164.9 L941.8,183.2 L942.3,211.4 L943.0,208.1 L943.5,184.8 L944.1,194.8 L944.6,214.7 L945.5,236.3 L946.0,244.6 L946.6,201.4 L947.3,201.4 L948.0,218.0 L948.8,237.9 L949.6,251.2 L950.6,269.4 L951.8,289.3 L951.3,304.3"/>
</g>
<line x1="94.5" y1="116.4" x2="141.5" y2="116.4" stroke="#4A72BF" stroke-width="3" stroke-linecap="round"/>
<text x="146.5" y="123.6" font-size="21.5" text-anchor="start" fill="#000" textLength="220.5" lengthAdjust="spacingAndGlyphs">Median (46 Countries)</text>
<line x1="95" y1="164.6" x2="140" y2="164.6" stroke="#000" stroke-width="4" stroke-linecap="round"/>
<text x="146.5" y="170.5" font-size="21.5" text-anchor="start" fill="#000" textLength="45.5" lengthAdjust="spacingAndGlyphs">USA</text>
<text x="31.0" y="652.0" font-size="21" text-anchor="start" fill="#000" textLength="416.2" lengthAdjust="spacingAndGlyphs">Source: Topdown Charts, Refinitiv Datastream</text>
<text x="970.3" y="651.6" font-size="20.8" text-anchor="end" fill="#000" textLength="174.2" lengthAdjust="spacingAndGlyphs">topdowncharts.com</text>
</svg>
</body></html>
